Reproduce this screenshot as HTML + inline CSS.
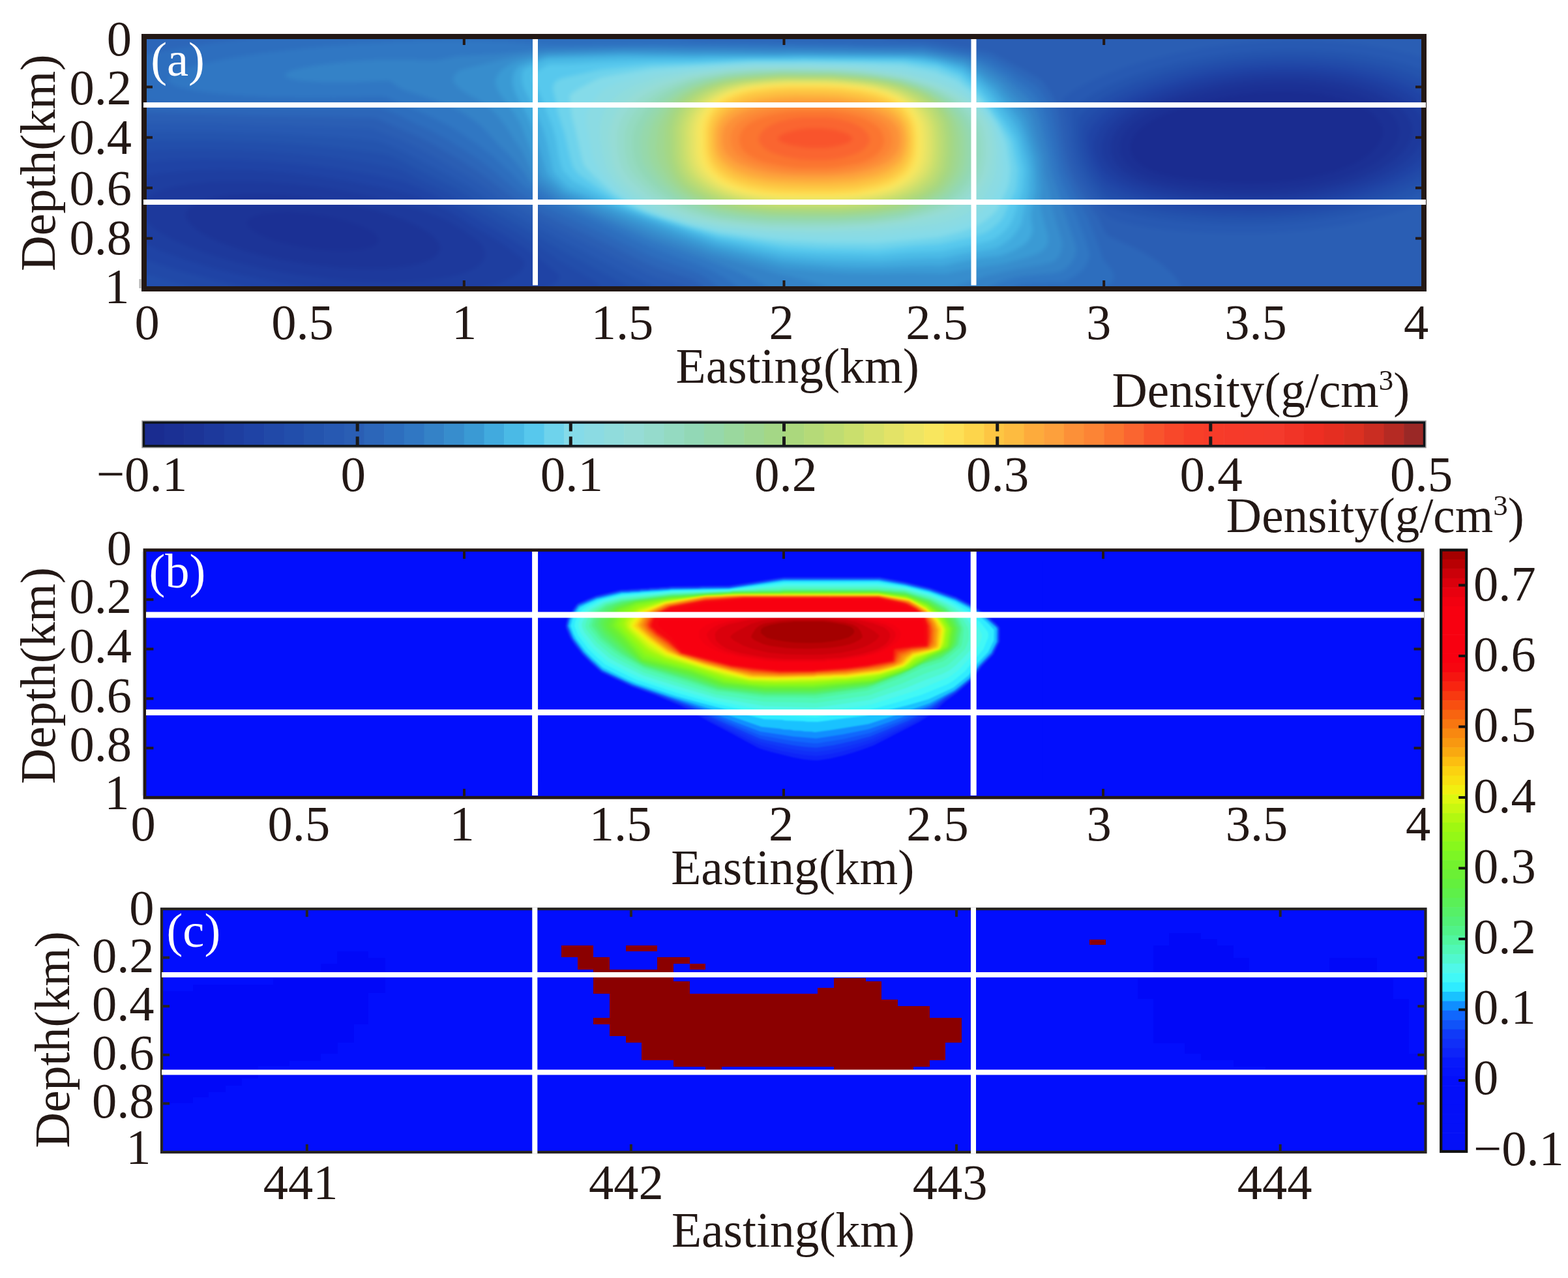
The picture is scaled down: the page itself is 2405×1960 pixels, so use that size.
<!DOCTYPE html><html><head><meta charset="utf-8"><title>Density sections</title><style>html,body{margin:0;padding:0;background:#fff;width:2405px;height:1960px;overflow:hidden}svg{display:block}</style></head><body><svg width="2405" height="1960" viewBox="0 0 2405 1960" font-family="'Liberation Serif', 'Times New Roman', serif" fill="#231815"><rect width="2405" height="1960" fill="#fff"/><clipPath id="ca"><rect x="221" y="56" width="1963" height="387"/></clipPath><filter id="fa" x="0" y="0" width="1" height="1" color-interpolation-filters="sRGB"><feGaussianBlur stdDeviation="3"/></filter><g clip-path="url(#ca)"><g filter="url(#fa)"><rect x="214" y="48" width="1978" height="404" fill="#1a2c90"/><path fill="#1b3094" fill-rule="evenodd" d="M214 48l1978 0l0 404l-1978 0zM1952 140l-24 1.5l-21.7 2.5l-24.3 4l-19.4 4l-24.1 6l-20.6 6l-19.9 6.8l-17.7 7.2l-12.3 6.2l-12 7.5l-8 6.5l-7.1 7.8l-4.7 8l-2.4 8l0.1 8l2.1 7l5.9 9l9.2 8l12.9 7.1l16 5.8l18 4.3l22 3.5l30 3l34 2.2l30 0.9l26-0.3l24-1.3l24-2.7l22-3.7l20.9-4.8l19.8-6l20.2-8l15.5-8l14.4-10l10.2-10l6.4-10l2.9-10l-0.6-10l-4.2-10l-8.4-10l-10.4-8l-14.7-8l-16-6.3l-20.2-5.7l-20.5-4l-23.3-2.8l-24-1.4z"/><path fill="#1c3497" fill-rule="evenodd" d="M214 48l1978 0l0 404l-1978 0zM420 325.9l-17.5 2.1l-13.8 4l-4.7 2.7l-3.3 3.3l-0.9 2l0 4l3.9 6l4.8 4l6.5 4l18 8l19 6l26 6l24 3.8l24 2.2l22 0.6l22-1.4l15.9-3.2l9.3-4l2.8-2.3l2.3-3.7l-0.1-4l-2.2-4l-3.9-4l-5.6-4l-16.3-8l-24.2-8l-26.1-6l-27.9-4.2l-28-2.2zM1944 129.9l-24 1.9l-22 2.7l-22 3.7l-26 5.7l-23.3 6.1l-22.7 7.1l-18.9 6.9l-18.1 8l-14.7 8l-11.7 8l-9 8l-6.6 8l-5 9.2l-2.3 8.8l0.3 10l2.6 8l6.6 10l4.8 4.8l6.6 5.2l14.2 8l17.2 6.5l22 5.5l24 4l34 3.7l36 2.6l32 0.9l28-0.5l28-1.9l26-3.3l28-5.2l24.6-6.3l23.4-8l18.4-8l17.8-10l13.8-10.4l10.9-11.6l3.9-6l2.8-6l1.7-6l0.6-6l-0.4-6l-1.6-6l-2.8-6l-4-6l-9.9-10l-14.7-10l-16.6-8l-21.9-7.6l-22-5.5l-26-4.3l-26-2.5l-28-0.9z"/><path fill="#1d399c" fill-rule="evenodd" d="M214 48l1978 0l0 404l-1978 0zM380 298l-22 1.1l-18 2l-16.2 2.9l-14.4 4l-9.5 4l-8.9 6l-4.5 6l-1.2 6l1.4 6l5.5 8l6.5 6l11.6 8l15.1 8l13.7 6l20.9 7.7l20 6.3l22.6 6l25.4 5.7l48 8.1l48 5l46 1.5l22-0.6l20-1.6l16-2.3l16-3.6l12-4.1l8-4.2l7.1-5.9l3.2-6l0.3-6l-1.3-4l-2.3-4l-7.3-8l-10.8-8l-14.2-8l-17.8-8l-20.9-7.7l-20-6.3l-22.6-6l-25.4-5.7l-50-8.4l-26-3l-26-2l-26-1zM1938 122l-26 2.3l-26 3.6l-22.6 4.1l-26.2 6l-23.2 6.4l-23 7.6l-20.5 8l-18.5 8.8l-14 8.3l-12 8.9l-8.3 8l-7.6 10l-4.7 10l-2 10l0.8 10l3.6 10l3.8 6l5.1 6l12.2 10l17.1 9.2l20 7.2l23.4 5.6l28.6 4.6l38 4l38 2.3l32 0.5l32-1.1l28-2.4l30-4.4l28-5.8l27.6-7.7l22-8l21.5-10l16.7-10l15-12l10.5-12l4.7-8l2.3-6l1.6-8l0.1-6l-1-6l-1.9-6l-3.1-6l-4.2-6l-5.5-6l-6.9-6l-15.4-10l-21.6-10l-24.4-7.9l-24-5.6l-29.3-4.5l-28.7-2.4l-30-0.8z"/><path fill="#1e3ea0" fill-rule="evenodd" d="M214 48l1978 0l0 404l-1978 0zM346 278l-28 1.4l-25.5 2.6l-22.5 3.9l-18 4.7l-16 6.4l-11 7l-3.9 4l-2.7 4l-1.6 4l-0.6 4l1.4 8l1.9 4l4.2 6l10.3 10l14.3 10l18.3 10l22.3 10l26.9 10l25.3 8l29.4 8l33.5 7.7l32.7 6.3l33.3 5.2l34 4.3l32 2.9l32 1.8l32 0.5l28.4-0.7l27.6-2.1l24-3.3l21-4.6l17-5.7l12.1-6.3l5.3-4l3.9-4l2.6-4l1.5-4l0.5-4l-0.8-6l-2.6-6l-2.8-4l-8.9-8l-26.3-18l-13.9-8l-17.5-8l-25.1-9.4l-27.1-8.6l-30.9-8.4l-33.6-7.6l-34.4-6.5l-36.5-5.5l-35.5-4.1l-36-2.7l-34-1.3zM1952 114l-28 1.8l-28 3.1l-28 4.5l-26 5.5l-27.4 7.1l-25.5 8l-23.1 8.8l-20 9.2l-17.3 10l-12.7 9.3l-11.1 10.7l-7.4 10l-4.7 10l-2.5 12l1.1 12l3.7 10l3.7 6l5.2 6.5l5.7 5.5l7.8 6l18 10l20.5 7.7l24.5 6.3l29.5 5l38 4.3l38 2.6l34 0.8l34-0.9l32-2.6l32-4.4l30-6l28-7.5l26.6-9.3l22.3-10l20.7-12l15.5-12l6.9-6.9l5.8-7.1l4.2-6.8l3.2-7.2l2.1-8l0.4-6l-0.4-6l-1.4-6l-3.3-8l-3.7-6l-4.9-6l-6.1-6l-7.5-6l-9-6l-19.5-10l-23.9-8.9l-26-7l-30-5.5l-30-3.3l-32-1.7z"/><path fill="#1f43a5" fill-rule="evenodd" d="M214 48l1978 0l0 125.3l-7.4-9.3l-8.6-8l-11.1-8l-10.9-6.4l-14-6.7l-16-6.3l-18-5.7l-18-4.6l-20-4l-20-3.1l-42-3.8l-44-0.5l-46 2.8l-46.4 6.3l-23.6 4.6l-22.8 5.4l-21.6 6l-21.6 7l-18.6 7l-18.2 8l-15.2 8l-12 7.5l-11.3 8.5l-8.7 8.2l-8.1 9.8l-5.8 10l-3.4 10l-0.8 8l1.4 10l3.3 10l5.4 10.7l6.9 9.3l7.1 6.5l10.8 7.5l11.2 6l14 6l16 5.2l16 4.1l40 7l54 5.3l52 1.9l46-1.4l44-4.4l43.2-7.7l38.8-10.3l18-6.2l18.6-7.5l16.5-8l12.9-7.4l12.6-8.6l9.7-8l9.6-10l6.1-8.4l0 226.4l-1978 0l0-81.9l31 13.9l38.4 14l42.6 12.7l45.5 11.3l48.5 9.8l50 7.9l50 6l48 3.7l48 1.7l44-0.7l40-3l34-5.1l28-7l12-4.4l10.3-4.9l7.7-4.8l6.1-5.2l4.8-6l2.1-6l-1.5-4l-5.8-6l-25.7-18.9l-16-10.2l-29.2-16.9l-24.8-16.1l-20.9-11.9l-21.1-10.6l-18-7.5l-20-5.8l-32-7.7l-50-10l-52-8l-52-5.8l-50-3.3l-50-1.1l-46 1.5l-42 3.9l-34 6.1z"/><path fill="#2149a8" fill-rule="evenodd" d="M214 48l1978 0l0 105.6l-10.1-7.6l-11.9-7.3l-13.2-6.7l-14.2-6l-16.6-5.8l-16-4.7l-38-8.1l-40-5.1l-42-2.2l-44 0.7l-44 3.6l-44 6.7l-44 9.8l-42 12.8l-18 6.7l-17.5 7.6l-15.6 8l-12.9 7.8l-11.4 8.2l-9.1 8l-9.1 10l-6.4 9.5l-2.7 6.5l-0.7 8l0.8 10l2.7 12l3.4 10l4.9 10l7.6 12.7l6 7.5l6 4.8l10 5.8l14 6.6l14 5.2l16 4.6l18 4.2l20 3.5l24 3.2l52 4.6l50 1.5l48-1.6l24-2.2l24-3l44-8.1l22-5.5l20-5.9l18-6.3l18.6-7.6l16.5-8l14-8l12.9-8.8l12-9.9l0 206.7l-1381.6 0l22.1-8l9.5-4.7l8.5-5.3l5.1-4l3.3-4l0.1-2l-3.2-4l-31.9-26l-23.9-16.7l-24-15.4l-42-23.8l-25.6-16.1l-20.4-11.6l-28-14.1l-40-17.9l-44-9.7l-56-9.6l-52-6.7l-54-4.9l-54-2.7l-52-0.6l-50 1.6l-44 3.7zM214 396l0-1.3l25.9 9.3l26.1 8.4l60 16.4l56 12.4l60.6 10.8l-228.6 0z"/><path fill="#224eab" fill-rule="evenodd" d="M214 48l1978 0l0 91l-12.2-7l-13.8-6.6l-30-11.2l-36-9.4l-38-6.5l-40-3.9l-44-1.4l-44 1.6l-44 4.3l-46 7.6l-44 10.4l-40 12.5l-34 14l-16 8.2l-13.8 8.4l-12.2 8.9l-10.2 9.1l-7.2 8l-3.7 6l-1.5 6l-0.5 10l0.6 10l1.8 12l2.6 10l4.1 10.8l4.7 9.2l9.7 16l7.6 9.7l6 5.3l9.6 5l12.4 5.3l14 4.8l16 4.5l34 6.7l42 5.3l56 3.9l52 0.4l26-1.1l26-2l48-6.4l24-4.6l24-5.6l22-6.3l20-6.7l20-7.9l17.8-8.3l16.2-8.9l14-9.2l0 192.1l-1286.7 0l10.7-7.3l4.2-4.7l-0.2-2l-1.5-2l-8.4-6l-52.1-30.3l-26.2-17.7l-38.3-24l-53.5-30l-38-23.3l-28-14.8l-30-13.9l-28-14.3l-10-4.1l-40-7.6l-50-7.4l-50-5.7l-50-4l-52-2.6l-52-1.1l-50 0.4l-48 2.1zM214 418l0-1.1l36 11l38 10.2l59.7 13.9l-133.7 0z"/><path fill="#2454ae" fill-rule="evenodd" d="M214 48l1978 0l0 77.5l-28-12.1l-34-10.7l-36-7.8l-42-5.9l-42-3l-44-0.4l-44 2.3l-46 5.2l-46 8.1l-46 11.4l-40 13.1l-18 7.2l-16 7.4l-16 8.6l-14 9l-12 9.1l-10 9.4l-2.8 3.6l-1.2 4l-0.6 20l0.5 12l2.1 14l3 12l4.6 12l8.5 16l6.2 10l9.2 12l8.5 8.8l6 3.8l8 3.3l26 8.4l28 6.3l30 4.6l58 5.5l58 2.1l26-0.3l28-1.3l50-4.9l26-4l26-5l26-6.2l22-6.3l22-7.4l20-7.9l18-8.3l18-9.8l0 178.6l-1205.5 0l-6.1-4l-118.4-63.3l-65.8-38.7l-48.2-26.6l-30-19l-22-12.8l-42-20.8l-34-17.8l-26-11.7l-8-1.8l-20-2.9l-50-6.1l-48-4.4l-50-3.4l-52-2.3l-52-1.2l-52-0.1l-48 1zM214 442l0-1.9l44 11.9l-44 0z"/><path fill="#2759b2" fill-rule="evenodd" d="M214 48l1978 0l0 63.1l-30-10.9l-34-9.1l-34-6.5l-40-5.1l-40-2.7l-40-0.5l-40 1.5l-42 3.8l-42 6.1l-44 8.9l-40 10.6l-36 12l-18 7.3l-16 7.3l-14 7.4l-14 8.6l-11.5 8.2l-9.4 8l-2.5 4l-0.6 6l2.3 40l4.5 24l3.2 10l4 9.5l7.7 14.5l6.1 10l16.2 20.7l8 8.4l4 3.1l6 2.8l14 4.5l28 6.9l26 4.5l28 3.4l32 2.8l34 1.9l32 0.9l30-0.1l28-1.1l30-2.2l30-3.4l28-4.2l28-5.4l26-6.1l24-6.8l24-8l24-9.4l20-9.4l0 164.2l-1148.3 0l-39.7-11.3l-38-18l-100-51.1l-38-20.3l-68-38.1l-40-26.1l-28-16.1l-70-36.6l-22.5-10.4l-17.5-6.8l-12-2.1l-50-4.4l-100-5.7l-104-3l-102-0.3z"/><path fill="#2a5eb4" fill-rule="evenodd" d="M214 48l1978 0l0 43.4l-30-8.8l-34-7.7l-36-5.8l-38-4.1l-40-2.3l-40-0.2l-42 1.7l-38 3.2l-42 5.6l-42 7.7l-42 9.9l-36 10.5l-34 12.3l-30 13.7l-18 10.1l-14 9.3l-4.1 3.5l-1.2 4l3.7 24l5.4 46l4.8 22l6 16l9.3 18l8.9 14l11.2 15l18 21.4l6 4.7l14 4.4l22 5.3l24 4.3l28 3.5l32 2.6l40 2l38 0.7l36-0.5l34-1.8l30-2.6l32-3.9l26-4.2l30-5.9l26-6.2l28-7.9l24-8.1l24-9.3l0 144.5l-1123.2 0l-4.4-6l-6.4-4.5l-50-15.5l-12-5l-160-78.2l-60-33.2l-15.1-9.6l-24.9-17.9l-18-11.7l-66-37.3l-20-10.4l-18-8.4l-42-16l-6-1l-28-1.4l-114-4.1l-108-2.7l-102-1.4z"/><path fill="#2c66b9" fill-rule="evenodd" d="M214 48l1135.3 0l5 10l6.8 2l28.8 2l28.1 0.8l64 10.3l34 6.4l8 2.9l42 22.4l28 15.8l6.4 5.4l8.5 12l4.8 8l4.3 8.9l3.2 9.1l2.9 12l6.8 44l4.1 20l3.1 12l3.6 10l7.5 16l6.8 12.4l27.4 41.6l12.6 25.6l2 2.5l4 2.7l33.9 15.2l19.6 10l13.3 8l14 10l13.4 12l10.3 12l7.3 12l3.6 10l-730.4 0l-3.7-6l-5.3-6.1l-7.1-5.9l-6.9-4l-8-3.2l-46-15l-18-7.4l-72-35.1l-82-37.9l-52.8-29.4l-11.5-8l-27.7-21.6l-18-12.6l-18-11.5l-44-25.8l-28-14.5l-29-12l-31-14.1l-8-1l-180-3.1l-176-5z"/><path fill="#2d6ebe" fill-rule="evenodd" d="M473.4 50l24.4-2l492.4 0l25.8 4.7l29.8 7.3l16.1 2l30.1 1.6l14-0.3l84 2.3l112 1.5l14 1l100 0.8l68 10.4l32 8.2l6 2.6l28.4 15.9l37.2 24l6.4 6.3l11.6 17.7l4.4 9.5l3.2 10.5l14.7 72l5.3 18l10.8 24l24.6 46l11.9 30l11.5 33l2 3.4l8.4 9.6l3.8 6l2.1 6l-0.3 6.8l-3 5.2l-5 3.8l-6 2.5l-8 1.9l-14 1l-20-0.6l-16 3.7l-60 0.9l-6 1.4l-5.9 3.4l-453 0l-8.3-10l-8.8-8l-11.1-8l-10.6-6l-14.3-5.8l-46-15.7l-18-7.2l-72-34.5l-80-35.7l-48-27.1l-34-29.2l-20-15.7l-20-13.9l-34-21.3l-24-13l-19.9-8.9l-28.5-14l-27.6-11.7l-8-1.4l-104 0.6l-106-2l-82-3.5l-72-5.5l0-69.6l54-10.1l62-9.3l70-8.5z"/><path fill="#3077c3" fill-rule="evenodd" d="M611.2 64l54.8-1.5l50-0.2l56.7 1.7l57.3 4.2l40 0.9l136-1.4l60 1.2l42-0.2l194 2.4l14 0.8l98 0.7l8 0.7l44 7.2l22 4.2l28 10.2l32 19.1l34.2 26l5.1 6l9.4 14l3.8 8l3.8 12l18.5 82l8.3 22l20.5 48l14.5 40l4.7 16l0.3 4l-1.3 6l-4.8 10l-6.6 8l-10.2 8l-12.2 6.6l-8 2l-50 2.2l-10 1.1l-8 2.2l-8.8 3.9l-6.9 4l-7.9 6l-391.6 0l-13.4-12l-13.8-10l-13.3-8l-19.8-10l-16.5-7l-70-25.4l-71.8-33.6l-78.2-33.5l-44-26l-20-20.7l-28-26l-24-18.6l-28-18.6l-16-9.8l-16-8.4l-38-17.3l-42-18l-8-1.3l-62 1.8l-60 0.2l-48-1.1l-44-2.1l-40-3.3l-32-4.4l-22.2-4.9l-7.8-2.8l-6.2-3.2l-3.6-4l0-4l3.2-4l10-6l12.6-4.9l17.2-5.1l46-10l54.8-8.6l66-7.6l70-5.8z"/><path fill="#3482c7" fill-rule="evenodd" d="M1001.8 72l414.2 4.3l66 11l7.2 2.7l22.8 10.6l28 17.4l25.8 22l12.2 12l7.3 10l5.6 10l4.5 14l12.6 50l2.9 18l3.3 14l10.4 30l6.1 22l19 56l1 6l-0.2 4l-1.3 6l-2.4 6l-4 6l-3.6 4l-7.2 5.7l-6 3.4l-12 2.2l-44 4l-16 3.3l-17.4 5.4l-14.3 6l-11.7 6l-12.8 8l-303.7 0l-15.2-10l-17-10l-19.5-10l-17.8-8l-47.2-18l-77.4-26.7l-58.1-25.3l-89.9-37.4l-38.7-26.6l-9.3-15l-12-14.9l-12.8-14.1l-18.4-18l-14.8-16.6l-9.6-9.4l-10.2-8l-14.2-9.5l-11.5-6.5l-12.5-6l-24-9.3l-44-14.4l-8.5-4.3l-11.5-8.5l-4-1.8l-54 2.6l-46 0l-33.6-2.3l-12.6-2l-9.8-3.1l-1.7-0.9l-1.7-2l0.4-2l2.1-2l9-4l6.8-2l30.7-6l50.4-5.7l36-2.2l30-0.8l26 0.3l34 1.5l12-1.3l28-5.7l56-3.2l80-7.6l118-3z"/><path fill="#378dcd" fill-rule="evenodd" d="M950.8 76l57.2-0.3l58 1.2l42-0.2l82 1.3l16-0.4l208 2.1l8 0.7l54 9.7l8 2.4l28 16l24 16.4l30.9 31.1l9.1 11.6l5.3 8.4l3.4 10l9 34l6.1 20l3.6 28l7.1 28l2.8 20l5.8 22l9.8 30l0.7 10l-2.4 10l-3.2 5.6l-3.7 4.4l-4.3 3.2l-4 1.6l-16 3.8l-34 5.4l-48 11.1l-28.7 8.9l-27.3 10.7l-6 1.7l-62.5 7.6l-83.3 0l-6.2-1.4l-28-9.6l-38-11.3l-20-5.2l-16-3.2l-31.2-9.3l-76.8-20.7l-86-29.3l-142-57.4l-8.2-4.6l-29.1-22l-4-4l-20.7-43.4l-10.2-14.6l-13.8-22l-12-15.5l-10-10l-10-8.1l-12-8.1l-20-11.1l-9.4-7.2l-3.8-4l-2.6-4l-1.2-4l0.5-4l4-6l4.5-3.5l4-1.8l72-17.9l14-2.7l46-7.1z"/><path fill="#3a9ad4" fill-rule="evenodd" d="M930.5 80l25.5-0.8l26 0.2l84 1.4l14-0.5l112 1.4l14-0.7l208 1.9l28 4.5l38 7.9l18 11.6l32.3 23.1l28.5 32l9.5 12l5.7 9.3l6.9 20.7l11.7 40l5.1 46l-1.7 16l0.2 10l2.5 14l8.8 32l0.1 8l-1.6 6.7l-3.7 5.3l-5.4 4l-7.8 4l-11.3 4l-37.8 10.3l-62.2 9.7l-27.8 5.8l-54-1l-42 1l-54-0.7l-34-2.1l-62-5.6l-76-17.9l-36-9.3l-86-30.1l-139.4-54.1l-7-4l-21.6-18l-6.6-6l-2.8-4l-30.6-79l-10-16.7l-18.5-24.3l-5.2-8l-2.7-6l-1.7-6l-0.2-4l0.8-4l3.1-6l5.1-6l14.2-10l13.1-5.2l32-7.7l12-2.4z"/><path fill="#41aade" fill-rule="evenodd" d="M915.7 84l40.3-1.2l112 1.7l12-0.6l112 0.8l36-0.6l162 1.2l30 1.6l22 4l36 8.9l6 3.6l19.1 14.6l22.9 18.9l33.6 41.1l5.4 8l5 11.2l4 10.8l9.9 34l3.1 20l1.3 28l-6.6 36l-0.1 10l2.2 16l-0.4 4l-1.4 4.8l-5.4 9.2l-8.6 7.3l-12.6 6.7l-17.4 6.9l-6 1.7l-28.1 3.4l-17.9 3l-40 8.7l-24-0.3l-30 0.8l-40 2l-30 0l-34-1l-62-4.6l-28-3l-102-23.8l-88-31.5l-136-50.7l-6-3.1l-4-3.3l-18.3-17.2l-3.4-4l-2.4-4l-11.4-38l-12.3-36l-6.3-14l-15.3-28l-3.4-8l-3.1-12l0.3-10l1.6-6l2-4l3-4l3-2.6l14-5.6l26-8.6l6-0.9z"/><path fill="#4abae6" fill-rule="evenodd" d="M929.7 88l26.3-1l112 1.3l14-0.7l112-0.1l36-0.7l158 1.1l28 2.1l22 3.7l36 10.4l6 3.2l17.8 14.7l11.6 10l10.6 10.7l32.4 41.3l6.4 10l7.2 14.9l10.4 37.1l2 10l0.7 8l-0.8 28l-2.1 10l-4.6 16l-4.7 24l-4 8l-4.1 6l-4.7 6l-6.1 5.8l-12 8.5l-7.3 3.7l-4.7 1.4l-44 7.7l-36 7.4l-22 0.1l-28 1.2l-44 3.3l-62-1.3l-36-1.9l-52-4.5l-100-21.8l-116-40.5l-54-20l-56.8-23.1l-5.4-4l-17.5-18l-2.4-6l-8.9-40l-7-24l-8.9-22l-19.5-38l-2.6-8l-1-10l1.1-8l3.1-4l12.2-6l18.8-8l4.8-1.4z"/><path fill="#57c8ed" fill-rule="evenodd" d="M1147.2 90l84.8-0.5l156 1.2l26 2.8l24 3.9l30.8 10.6l7.2 3.3l25.3 22.7l12.4 14l31.5 42l11.3 18l3.5 8l10.5 42l0.3 6l-1.5 22l-1.7 10l-6.3 16l-5.3 18.2l-3.2 7.8l-4.7 8l-4.1 5.3l-8 7.7l-8 5.8l-8 4.2l-18 4.8l-58 11.4l-48 2.1l-50 4.7l-90-2.4l-52-3.8l-104-20l-88-28.5l-30-10.6l-42-17.5l-60-30.8l-14.9-14.4l-2.6-4l-1.6-4l-4.1-16l-4.6-28l-5.2-18l-17.5-46l-11.7-26l-0.6-4l0.3-2l1.2-2l4.3-4l15-9.3l4-1.5l4-0.5l28-0.2l44-2.8l78-2.8l74-0.4z"/><path fill="#6ed3ec" fill-rule="evenodd" d="M1123.2 94l30.8-1.6l64 0.3l14-0.6l154 1.9l51.9 8l34.1 13.8l24 21.4l12.6 14.8l26.4 36l13.8 22l3.7 8l8.9 42l-2 26l-2.1 8l-9.2 18l-8.5 20l-4.1 6l-8.1 8l-9.4 7.3l-8 4.3l-16 5.4l-52 11.3l-42 2.9l-54 6l-88-1.7l-56-3.8l-102-16.9l-48-13.5l-58-18.9l-29.4-12.4l-22.8-12l-19.2-12l-32.6-22.7l-6-5.7l-5.3-7.6l-3.8-12l-8.7-38l-11.1-34l-2.1-14l-4.9-20l0.1-6l2.6-6l5.2-3.8l8-3l58-12.7l76-7.6l60-1.6z"/><path fill="#85dbe9" fill-rule="evenodd" d="M1141 96l15-0.8l88-0.2l80 1.5l60 2.6l50 9.3l34 13.8l24 19.3l16 17.4l12.9 17.1l9.2 14l9.4 18l4.9 12l5.8 38l-2.1 22l-3 10l-15.6 32l-5.2 6l-10.3 8.6l-10 6.9l-10 5.5l-22 7.2l-32 8.1l-96 9.1l-76-0.3l-64-3.3l-30-3.4l-72-10l-42-9.8l-42.5-12.6l-31.5-11.5l-24.8-12.5l-18.3-12l-12.7-10l-25.3-24l-7.4-8l-2.5-4l-2.6-8l-9.2-42l-6.3-24l-3.3-28l0.4-2.9l2-3l12-8.4l22.3-11.7l11.7-5l12-2.6l66-11.4z"/><path fill="#8bdbe3" fill-rule="evenodd" d="M1128.5 100l27.5-1.7l86-0.1l80 2.4l34 2.6l30 2.9l40 8.6l10 2.7l26 10.7l10 5.9l10 7.1l20 17.8l15 19.1l9.5 16l8.1 22l2.4 10l0.8 8l0.8 28l-2.3 14l-2.8 8l-13.1 26l-4.2 6l-16.2 14.4l-8.1 5.6l-7.9 4.2l-20 7.2l-28 6.9l-94 9.2l-74 0.8l-48-1.5l-46-3.1l-68-7.2l-30-5.7l-22-5l-33.5-9.8l-31.9-12l-25.3-14l-11.3-8.1l-9.2-7.9l-7.7-8l-13.7-18l-10.5-18l-2.4-8l-5-24l-3.2-20l-1.1-12l1.5-10l6.8-14l10.5-13.3l7.2-6.7l4.8-3.3l21.1-8.7l32.9-9.7l18-4.4l14-1.7l50-5.1z"/><path fill="#90dcdc" fill-rule="evenodd" d="M1151.4 102l44.6-0.8l46 0.1l12 0.8l32 0.3l44 2.9l50 6.2l16 3.3l38 10l28 11.7l10 5.3l8 5.5l20 16l14.4 18.7l3.6 6l3.7 8l4.9 18l2 14l0.3 6l-1 18l-1.9 14l-3 10l-4.7 10l-10.1 18l-10.2 10.7l-14.1 11.3l-11.9 6.3l-8 3.4l-10 3.2l-22 5.2l-48 6l-46 4.1l-72 2.4l-46-0.7l-44-1.3l-68-6l-32-5.6l-22-5l-32-10.1l-30-12.6l-22.3-13.3l-17.6-14l-10.7-12l-7.8-12l-4-8l-4.9-18l-3.4-22l-1.2-18l1.5-10l3.5-12l3.6-8l5-8l6.3-7.3l5.3-4.7l7.9-6l10.1-6l10.7-5.4l30.6-10.6l25.4-5.1l36-5.5l52-5.6z"/><path fill="#96dcd6" fill-rule="evenodd" d="M1190.9 104l49.1-0.3l14 0.8l30 0.3l38 2.4l44 5.7l22 3.9l38 10.3l20 7.8l22 10.5l14 9.8l15.5 12.8l12.5 17.1l3.7 6.9l2.3 6l4.1 20l1 14l-0.9 12l-4.2 22l-3.3 8l-4.3 8l-10.4 15.7l-14 12.7l-6 4.6l-14 8.1l-10 4.3l-26 7.2l-42 8.3l-50 6l-72 3.1l-80-1l-44-3.1l-32-3.2l-34-6.5l-24-6.4l-28-10.1l-28-13.4l-22-15l-10.8-9.3l-7.4-8l-4.5-6l-7-12l-2.4-6l-2.6-10l-3.2-24l0.1-14l1.6-8l3.6-12l3.7-8l6.6-10l8.3-9.2l6-5.5l12-9.2l18-8.8l22-8.5l30-7.4l18-3.6l56-7.3l36-2.1z"/><path fill="#95dbcc" fill-rule="evenodd" d="M1191.3 106l6.7-0.5l42 0.2l14 0.8l30 0.3l36 2.3l44 5.8l22 3.9l36 10.1l18 7.1l20.1 10l9.6 6l21.4 18l10.2 14l6.8 14l2.8 12l1.3 10l0.7 12l-0.6 10l-4.1 22l-6.4 14l-9.3 14l-14.5 13.4l-18 11.7l-10 4.6l-28 8.8l-34 7.8l-10 1.8l-44 5.2l-70 3.1l-28-0.1l-58-1l-54-4.7l-30-4.5l-33.1-8.1l-14.9-5l-18-7.2l-24-12.2l-9.2-5.6l-13.2-10l-15-14l-9-12l-4.3-8l-2.9-8l-2.2-10l-1.9-16l-0.2-14l1.3-8l3.3-12l3.8-8l3.8-6l10-12l13.7-12.6l8.8-5.4l15.2-8l16-6.8l32-9.5l24-4.7l42-6.1l38-2.4z"/><path fill="#94dac1" fill-rule="evenodd" d="M1189.4 108l12.6-0.7l78 1.1l40 2.5l22 2.6l38 6l20 5.2l28 9.3l20.8 10l16 10l19.7 18l7.5 10l8.1 16l2.1 8l1.8 12l0.7 12l-0.3 10l-3.3 20l-5.8 14l-7.5 12l-13.8 14.1l-16 11.5l-10 5.1l-26.1 9.3l-33.9 8.5l-12 2.1l-42 5.1l-50 2.6l-48 0.5l-56-1l-38-3.1l-36-4.5l-28-6.2l-26-8.2l-26.2-11.8l-23.3-14l-16.7-14l-14.6-16l-4.9-8l-3.5-8l-2.8-12l-1.5-12l-0.5-12l0.6-8l2.1-10l3.3-8.5l4.3-7.5l7.4-10l8.3-9.4l5-4.6l11-8l12.9-8l17.3-8l25.8-8.9l24-5.5l42-6.6l36-2.4z"/><path fill="#92d8b6" fill-rule="evenodd" d="M1178.9 110l21.1-1.1l78 1l42 2.8l22 2.5l38 6.1l16 4.3l24 8l18 8.3l18 11l8 6.6l8.7 8.5l10.2 12l4.5 8l4.5 10l2.5 8l1.4 10l0.7 22l-3.1 20l-5.7 14l-6.2 10l-13.5 14.7l-14 10.7l-10 5.3l-24 9.4l-32 8.5l-12 2.4l-42 5.2l-50 2.6l-48 0.5l-54-1l-40-3.3l-36-4.8l-26-6.2l-24-8.1l-21.1-9.9l-10.9-6.4l-13.9-9.6l-9.5-8l-9.7-10l-8.4-10l-4.5-6.9l-3.3-7.1l-2.2-8l-1.9-14l-0.6-12l0.6-8l3.6-14l5.1-10l5.3-8l6.1-8l7.7-8l6.9-6l12.7-9.4l20-10.5l20-7.7l22-5.9l36-6.5l42-3.5z"/><path fill="#96d8ab" fill-rule="evenodd" d="M1168.8 112l29.2-1.4l42 0.2l40 0.8l40 2.7l24 2.8l36 6.1l29 8.8l19.1 8l17.9 10.5l7.3 5.5l6.5 6l9.2 10l6.1 8l3.6 6l3.7 8l3.5 10l1.2 6l1.1 12l0.3 14l-2.3 18l-2.4 8l-3.5 8l-8.1 12l-12.9 14l-11.3 8.5l-18 9l-17.6 6.5l-28.4 7.8l-42 6.1l-60 3.5l-46 0.4l-56-1.2l-46-4.3l-30-4.6l-24-6.3l-15.2-5.4l-12.8-5.6l-12.3-6.4l-9.4-6l-17.7-14l-7.6-8l-9.7-12l-8.6-14l-2-6l-1.4-8l-1.1-12l0-10l1.2-8l2.2-8l3.3-8l4.3-8l5.4-8l8.1-10l14.9-14l18.4-11.4l18.9-8.6l23.1-7l32-6.5l26-2.8z"/><path fill="#9ad89e" fill-rule="evenodd" d="M1165.4 114l34.6-1.8l76 0.7l54 4.1l32 4.4l20 4.1l28 9.2l15.9 7.3l16.3 10l11.2 10l13.2 16l4.7 8l3.4 8l4.5 16l1.2 26l-1.9 16l-2.3 8l-3.3 8l-9.4 14l-11 12l-10.5 7.8l-15.4 8.2l-21.5 8l-21.1 6l-42 6.4l-60 3.5l-46 0.4l-56-1.3l-46-4.4l-28-4.6l-24-6.7l-23.3-9.3l-17.5-10l-9.2-6.8l-10.2-9.2l-11.6-14l-6.7-10l-4.4-8l-2.3-6l-1.3-6l-1.4-20l3.8-20l6-14l11.7-18l12.4-13l15.7-11l18.3-9.3l20-6.7l30-6.9l26-3.2z"/><path fill="#9fd792" fill-rule="evenodd" d="M1195.8 114l82.2 0.5l40 2.9l24 2.5l20 3.2l20 4.3l28 9.7l16 8.1l15.7 10.8l7.7 8l11.9 16l3 6l3.6 10l3.6 16l0.8 26l-2.5 16l-2.4 8l-2.8 6l-6.5 10l-10.1 12.2l-8 6.5l-16 9.4l-22 8.7l-20 5.8l-40 6.3l-52 3.5l-54 0.3l-54-1.1l-46-4.4l-30-5.4l-24-7.2l-22-9.8l-16.8-10.8l-7.1-6l-9.5-10l-12.6-20l-3.6-8l-1.9-6l-1.6-8l-0.7-10l3.1-26l2.6-8l3.7-8l9.2-16l8.8-10l14.4-11.2l16-9l20-7.4l28-7l22-3z"/><path fill="#a4d786" fill-rule="evenodd" d="M1191.9 116l10.1-0.6l74 0.5l42 3.1l24 2.5l20 3.2l20 4.6l24.3 8.7l15.5 8l14.2 9.7l6.7 6.3l12.4 18l2.9 6l1.8 6l3.7 18l0.6 28l-3.3 20l-2.2 6l-3.2 6l-9.6 14l-5.9 6l-15.9 10.8l-14 6.6l-14 5.2l-20 5.5l-34 5.4l-24 1.9l-28 1.8l-54 0.1l-52-0.9l-36-3.3l-14-1.8l-32-6.5l-18-6.1l-20-9.3l-16.6-11.4l-6.3-6l-6.8-8l-7.8-14l-5.5-14l-2.6-18l0.9-28l1.7-8l3.6-10l3.5-8l3.5-6l8-10l11.6-10l14.8-9.2l18-7.4l16-4.9l18-3.9l28-3.5z"/><path fill="#abd87d" fill-rule="evenodd" d="M1182.9 118l19.1-1.1l72 0.4l44 3.2l22 2.3l22 3.7l18 4.2l16 5.6l17 7.7l12.6 8l12.1 10l11.8 18l3.4 8l3.8 22l0.3 24l-2.9 22l-1.9 6l-3 6l-7.5 12l-5.7 6.4l-16 11.5l-12.6 6.1l-13.4 5.2l-20 5.7l-32 5.4l-24 2.1l-30 1.9l-52-0.1l-50-0.7l-26-2.3l-24-2.8l-30-6.3l-20-6.9l-18-8.8l-16-11.2l-5.3-5.2l-6.3-8l-5.5-10l-5.5-16l-1.2-14l-0.7-32l3.9-16l2.9-8l3.2-6l7.1-10l9.4-8.7l14-9.6l17-7.7l17-5.6l16-3.7l20-3z"/><path fill="#b5da78" fill-rule="evenodd" d="M1178.4 120l23.6-1.6l70 0.3l56 4.4l12 1.3l20 3.5l16.7 4.1l17.3 6.2l16 7.6l12.1 8.2l11.9 10.5l9.5 15.5l3.7 8l3.5 22l0.3 22l-2.7 22l-1.8 6l-2.9 6l-7.6 12.6l-7.7 7.4l-12.3 8.9l-19.2 9.1l-16.8 5.8l-10 2.4l-30 5.2l-24 2.1l-28 1.9l-52-0.1l-48-0.7l-28-2.4l-22-2.8l-30-6.6l-20-7.4l-14-7l-16-11.1l-7.4-7.3l-8.3-12l-6.4-18l-1.3-10l-0.7-36l1.5-8l3.5-12l6.1-12l8-10l15-12l16-8.4l14.9-5.6l17.1-4.7l20-3.5z"/><path fill="#bfdc72" fill-rule="evenodd" d="M1200.2 120l73.8 0.3l30 2.1l36 3.8l20 3.8l18 5l17.2 7l14.5 8l10.4 8l10.2 10l9 16l3.2 10l2.4 22l-0.1 16l-1.4 14l-2.8 12l-8.7 16l-5.9 6.5l-14 10.9l-17 8.6l-17 6.3l-10 2.6l-28 5.1l-24 2.5l-28 1.8l-96-0.5l-30-2.5l-20-2.6l-14-2.9l-22.5-5.8l-17.5-7.3l-15.2-8.7l-14.8-12l-7.6-10l-4.9-10l-4.1-14l-1.6-34l0.6-10l4.7-18l7.8-14l9.6-10l11.5-9l12.6-7l19.4-7.5l12-3.3l20-3.7l32-3.4z"/><path fill="#cadf6d" fill-rule="evenodd" d="M1194.5 122l15.5-0.6l62 0.4l32 2.2l34 3.8l22 4.5l18 5.5l14 6.2l12 6.9l12 9.6l10 10.6l8 14.9l2.5 8l2.3 22l0 14l-1.3 14l-2.8 12l-7.4 14l-7.1 8l-12.4 10l-15.8 8.4l-16 6.3l-10 2.7l-28 5.5l-24 2.7l-28 1.8l-90-0.5l-36-2.9l-22-3.5l-28-7.1l-17.7-7.4l-13.7-8l-12.7-10l-7.1-8l-6.1-10l-5-16l-1.3-20l0-22l1.4-8l2.9-10l6.1-12l8.5-10l10.7-9.3l12-7.4l16.4-7.3l13.6-4.3l20-4.2l22-2.8z"/><path fill="#d7e16a" fill-rule="evenodd" d="M1187.2 124l20.8-1l60 0.2l22 1.2l36 3.6l16 2.5l22.5 5.5l13.5 4.8l16 8.1l12 8.3l12.5 12.8l5.6 8l5.9 14l1.7 10l0.9 12l0.1 16l-1.1 12l-2.1 10l-6.8 14l-4.7 6.2l-12 10.9l-14 8.2l-12 5.5l-12 4.2l-18 4.2l-14 2.6l-24 2.8l-30 1.8l-46 0.1l-40-0.6l-28-2.2l-26-3.8l-14-3.1l-18-5.4l-19.5-9.4l-14.5-9.9l-10-9.9l-6.7-10.2l-4.4-12l-1.9-12l-0.6-32l3.1-16l5.2-12l7.7-10l9.6-9.5l12-8.3l14-6.9l14-5l20-4.7l22-3.1z"/><path fill="#e3e367" fill-rule="evenodd" d="M1183.6 126l26.4-1.3l56 0.1l24 1.2l26 2.6l24 3.6l20 4.9l18 6.7l11.4 6.2l12.6 9l10.3 11l6.8 10l4.8 12l2.2 14l0.3 26l-2.1 16l-6.1 14l-4.2 6l-10 10.1l-11.9 7.9l-12.1 6.3l-12 4.7l-18 4.7l-14 2.7l-24 3.1l-30 1.9l-44 0.2l-42-0.7l-26-2.1l-26-3.9l-14-3.1l-18-5.8l-16-7.8l-14.6-10.2l-8.3-8l-8.2-12l-3.7-10l-2-12l-0.6-32l2.4-14l4.9-12l8.8-12l5.8-6l10.2-8l14.5-8l12.8-5l20-5.3l14-2.4z"/><path fill="#eee563" fill-rule="evenodd" d="M1181.4 128l28.6-1.7l54 0.2l38 2.4l24 2.8l16 3l20 5.5l17.9 7.8l12.1 7.8l9.3 8.2l10.6 14l5.5 12l2.7 16l0.3 24l-2 16l-5.9 14l-7.8 10l-6.2 6l-12 8l-10.5 5.6l-10 4l-16 4.5l-14 2.9l-26 3.6l-30 1.8l-42 0.2l-40-0.7l-28-2.1l-24-3.9l-16-3.7l-16-5.5l-12-5.9l-12-8.2l-9.7-8.6l-7.5-10l-4.8-10.6l-2.7-13.4l-0.6-30l1.4-12l3.9-12l7.5-12l5-6l9.5-8.5l14-8.6l12-5.2l20-5.8l16-2.9z"/><path fill="#f8e65e" fill-rule="evenodd" d="M1179.3 130l32.7-1.9l54 0.2l24 1.2l34 3.9l16 3l19.7 5.6l16.3 7.1l13.3 8.9l8.4 8l8.4 12l5.4 12l2.6 16l0.3 22l-1.3 14l-5.1 14l-3.8 6l-8.7 10l-11.2 8l-8.3 5l-11.3 5l-14.7 4.5l-16 3.4l-24 3.6l-30 1.8l-42 0.2l-40-0.6l-28-2.3l-10-1.3l-28-6.2l-14.4-5.1l-11.6-5.7l-11.8-8.3l-8.8-8l-7.1-10l-4.3-10l-2.5-12l-0.6-32l1.7-12l3.4-10l7.1-12l9.3-10l10.6-8l11.6-6l10.6-4l14.8-4.4l14-2.7z"/><path fill="#fde056" fill-rule="evenodd" d="M1179.4 132l32.6-2l52 0.2l26 1.3l34 4.1l16 3.2l18 5.4l16.9 7.8l11.4 8l7.7 7.8l7.8 12.2l4.7 12l2 16l-0.1 20l-1.6 14l-5.4 14l-7.1 10l-4.3 4.2l-13.7 9.8l-12.1 6l-18.2 5.8l-28 5.4l-10 1.2l-12 0.3l-18 1.5l-40 0l-38-0.5l-28-2.2l-11.1-1.5l-26.9-6.2l-15.6-5.8l-10.4-5.5l-11.4-8.5l-7.9-8l-6.2-10l-3-8l-2.2-12l-0.6-30l2-14l2.9-8l5.5-10l8.9-10.3l9.8-7.7l11.2-6l23.1-8l15.9-3.2z"/><path fill="#fdd54b" fill-rule="evenodd" d="M1185.1 134l28.9-1.4l50 0.3l26 1.3l31.1 3.8l19 4l18.4 6l13.5 6.7l10.5 7.3l7.5 7.5l7.8 12.5l4.2 12l1.7 14l-0.1 18l-1.7 14l-5.4 14l-6.5 9.2l-4 3.9l-12 8.8l-11.8 6.1l-16.2 5.5l-30 6l-8 0.9l-32 1.9l-38-0.1l-38-0.6l-28-2.5l-24-4.6l-14-3.8l-12.3-4.7l-9.7-5.1l-12-8.8l-6-6.1l-6.4-10l-3.6-10.4l-1.9-11.6l-0.2-28l2.6-14l4.5-10l5-7.7l7.8-8.3l7.9-6l11.2-6l16.1-6l16.6-4z"/><path fill="#fdc743" fill-rule="evenodd" d="M1187.1 138l28.9-1.5l46 0.4l26 1.3l32 4.3l18 3.9l16.9 5.6l13.1 6.4l11.2 7.6l6.2 6l7.9 12l3.8 10l2.2 16l-0.2 14l-2 14l-4.8 12l-6.3 8.8l-4 4l-10 7.4l-12 6.4l-16 5.5l-30 6.1l-8 0.9l-32 1.9l-32 0l-40-0.9l-28-2.5l-24-4.7l-14-4l-10-3.7l-10-5.1l-12-8.7l-7-7.4l-5-8.2l-3.8-11.8l-1.2-10l-0.2-22l2.7-14l4.5-9.8l5.9-8.2l8.1-8.1l5.6-3.9l11.2-6l15.2-5.9l16-4z"/><path fill="#fdbb40" fill-rule="evenodd" d="M1211.9 142l52.1 0.3l24 1.3l24 3.2l14 2.4l16 4l14 5.4l10.6 5.4l9.4 6.5l6 5.9l6.7 9.6l3.9 10l2.2 16l-0.4 12l-2.1 12l-4.3 10.2l-6 8l-6 5.5l-9 6.3l-13 6.3l-14 4.4l-28 5.8l-26 1.9l-16 0.9l-56-0.5l-40-3.2l-24-4.9l-12-3.7l-10-3.7l-10.1-5.3l-10.6-8l-7.2-8l-4.3-8l-3-10l-0.9-12l0.4-18l3.1-12l6.6-11.2l8-8.3l6-4.6l10-5.6l16-6.5l14.7-3.8l9.3-1.6l26-3.3z"/><path fill="#fdab3c" fill-rule="evenodd" d="M1207.5 148l8.5-0.7l44 0.3l28 1.4l40 6.2l16 4.5l16 7.1l8 4.8l8.1 6.4l7.9 9.9l3.6 8.1l2.4 14l0.2 8l-1.7 12l-3.5 10l-3 5l-6.3 7l-9.7 7.3l-8 4.4l-8 3.4l-12 3.8l-30 6.1l-40 2.5l-26 0.3l-44-1.7l-22-2.2l-24-5l-16-5.2l-8.7-3.7l-9.3-5.4l-10-8.6l-5.9-8l-3.3-8l-1.6-8l-0.3-20l2.9-12l4.2-8l6-7l8-7l10-5.8l16-6.7l22-5.2l26-3.6z"/><path fill="#fda03c" fill-rule="evenodd" d="M1195.3 154l24.7-1.3l44 0.2l22 1.3l38 5.8l20.7 6l13.3 6.1l9.4 5.9l6.6 5.8l6.5 8.2l3.5 9.3l1.6 12.7l-1.2 12l-2.5 8l-3.9 6.7l-6 6.5l-8 6.1l-8 4.5l-8 3.3l-14 4.5l-28 5.6l-38 2.6l-26 0.2l-42-1.6l-24-2.5l-24-5.3l-18-6.4l-11.5-6.2l-8.5-6.8l-6-6.8l-3.3-6.4l-2.5-10l-0.2-16l1.5-8l3.5-8l5-6.5l8.4-7.5l9.6-5.9l12-5.4l20-5.7z"/><path fill="#fc9038" fill-rule="evenodd" d="M1216.6 158l47.4 0.1l22 1.4l39.1 6.5l13.6 4l13.3 5.9l7.2 4.1l8 6l6.8 7.4l2.6 4.6l2.3 8l0.8 10l-0.9 8l-2.8 8l-4 5.6l-6.4 6.4l-8.6 6l-9 4.4l-16 5.6l-24 5.2l-24 2.5l-18 1l-24 0l-24-0.4l-18-1.3l-22-2.7l-20-4.6l-21.3-7.7l-10.5-6l-8.2-6.9l-4.3-5.1l-3.7-7.4l-1.4-6.6l-0.1-14l2-8l4.8-8l8.4-8l6-4l11.7-6l8.6-3.4l12-3.5l16-2.9l20-3z"/><path fill="#fc8435" fill-rule="evenodd" d="M1218.3 164l45.7-0.1l20 1.3l30 5.3l12 3.3l11.4 4.2l10.6 5.6l6.3 4.4l5.7 5.3l4.8 6.7l2.5 6l1.2 8l-0.3 6l-1.7 6l-3.4 6l-5.1 6l-7.5 6l-7.1 4l-11.4 4.8l-8 2.6l-18 4l-22 3l-20 1.1l-44-0.4l-18-1.6l-22-3.5l-24-6.6l-12-5.4l-8-4.9l-6.1-5.1l-6.1-8l-2.8-8l-0.4-10l1.4-7.1l3.7-6.9l5.2-6l8-6l10.6-6l10.5-4l16-4.3l18-3.2z"/><path fill="#fb7530" fill-rule="evenodd" d="M1206.5 172l19.5-1.6l44 0.2l14 1.3l21.1 4.1l18.9 5.5l16 8l5.7 4.5l4.3 4.5l3.2 5.5l2.2 6l0.7 6l-1.1 6l-2.6 6l-4.6 6l-7.4 6l-8.4 4.4l-8.5 3.6l-6.8 2l-32.7 6.3l-18 1.3l-42-0.4l-22-2.5l-31.3-6.7l-10.7-3.9l-8-4.1l-8.7-6l-4-4l-3.5-6l-1.8-7.4l0.1-6.6l2.8-8l4.4-6l7.4-6l5.3-3.3l10-4.6l16-5z"/><path fill="#fa6530" fill-rule="evenodd" d="M1231.6 180l38.4 0.2l16 2.4l20.5 5.4l13.5 6.8l6.5 5.2l3.5 3.8l2.5 4.2l1.3 4l0.1 4l-1.2 4l-2.7 4l-6 5.5l-6 3.9l-5.6 2.6l-16.4 5.2l-14 2.7l-12 1.3l-18 0.5l-26-1.4l-22-3.7l-20-6.4l-7.8-4.2l-4.2-3.1l-5.1-4.9l-2.5-4l-0.8-4l0.7-4l1.6-4l2.7-4l5.4-4.9l7.9-5.1l14.1-5.7l18-4.2z"/><path fill="#f9542c" fill-rule="evenodd" d="M1228.9 198l11.1-1.3l22 0l18 2.4l16 4.5l4 1.8l6.4 4.6l0.9 2l-0.3 2l-1.6 2l-3 2l-10.4 4.1l-12 2.6l-14 2l-28-0.1l-26-4.4l-8-2.4l-8.3-3.8l-2.1-2l-0.6-2l0.9-2l10.1-6.1l16-4.4z"/></g></g><rect x="222" y="843.6" width="1960" height="379.6" fill="#020efd"/><filter id="fb" x="0" y="0" width="1" height="1" color-interpolation-filters="sRGB"><feGaussianBlur stdDeviation="1.3"/></filter><g filter="url(#fb)"><rect x="830" y="860" width="770" height="340" fill="#020efd"/><path fill="#0e24f8" fill-rule="evenodd" d="M1194.4 886l7.6-1.1l148 0l34 6.2l42 10l40 13.7l24 12l22 15l18 15.7l3.6 4.5l0.2 22l-9.7 20l-18.1 18.6l-14 19.9l-26 22.3l-16 11.2l-18 16.9l-22 14.3l-70 36l-20 7.4l-24 7.4l-22 5.2l-20 3.1l-8-0.2l-14-1.7l-16-2.8l-34-8.6l-16-4.8l-6-2.6l-43.4-23.6l-28.6-14.7l-30-17.3l-15.9-8l-38.5-16l-35.6-12.7l-46-21.6l-17.5-15.7l-12-12l-10.9-14l-5.7-8l-3.1-6l-5-12l-0.9-4l2.2-10l1.6-4l12.1-18l3.2-3.2l28-11.7l34-8l6-1.1l8 0l6-1.1l26-1.1l4-0.9l26-1.1l4-0.9l90-1.1z"/><path fill="#102ff8" fill-rule="evenodd" d="M1199 886l151-0.2l40 7.4l36 8.7l40 13.8l24 12.1l22 15l17.4 15.2l3.3 4l0.6 4l-0.2 18l-9.9 20l-17.8 18l-14 20l-25.4 21.5l-16 10.5l-20 17.1l-21 12.9l-11 6l-60 28.7l-26 8.4l-24 6.4l-16 3.3l-20 2.8l-20-1.8l-18-3l-16-3.4l-30-7.8l-12-5.1l-66-33.3l-32-17.6l-14-6.5l-37.8-15.1l-38.2-13.6l-46-21.6l-16.4-14.8l-12-12l-14-18l-5.9-10l-5.7-14l0-4l3.6-12l12.2-18l2.2-2.2l28-11.9l38-9l26-1.2l6-1l10-0.1l4-0.8l10-0.1l6-1l10-0.1l6-0.9l40 0l6-1l42-0.1z"/><path fill="#103af8" fill-rule="evenodd" d="M1191.9 888l10.1-1.5l148 0.1l38 6.9l38 9.2l40 13.8l22.9 11.5l23.1 15.7l16.3 14.3l3.6 4l0.6 4l-0.2 18l-10 20l-17.9 18l-14 20l-24.4 20.3l-15.6 9.7l-20.4 15.9l-22 12.9l-18 9.4l-52 23.2l-20 6.3l-24 6.2l-22 4.5l-20 2.8l-20-1.7l-16-2.4l-16-3.1l-32-7.4l-10-4l-50-23.8l-50-25.3l-49.3-19.5l-38.7-13.6l-48-22.4l-28-26.6l-12-15.4l-4.3-6l-3.2-6l-5.8-14l-0.2-2l2.2-10l1.8-4l12.3-18l2.3-2l26.9-11.3l38-9l26-1.2l6-1l10-0.1l4-0.8l10-0.1l6-1l10-0.1l6-0.9l40 0l6-1l42-0.1z"/><path fill="#1053f9" fill-rule="evenodd" d="M1196.8 888l5.2-0.8l148 0.1l38 7l38 9.2l40 13.8l22 11.1l23.1 15.6l19.9 18l0.8 4l-0.3 18l-9.5 19l-18.6 19l-13.4 19.3l-22 18.3l-17 10.4l-23 16.4l-36 19l-38 16.3l-20 8l-24 6.4l-32 6.9l-26 3.8l-20-1.6l-16-2.2l-32-5.9l-18-4.1l-56-24.7l-52-24.8l-54-20.2l-34-11.8l-46.4-21.5l-17.6-15.7l-12-12l-14.1-18.3l-4.6-8l-5.3-12.7l-0.5-5.3l2-8l1.8-4l12.4-18l2.3-1.6l26-10.9l38-9l26-1.3l6-1l10 0l4-0.9l10-0.1l6-1l10 0l6-1l40 0l6-1l42 0z"/><path fill="#1067fd" fill-rule="evenodd" d="M1201.1 888l148.9 0.1l38 7l38 9.2l39.6 13.7l22.4 11.3l22 14.9l20.1 17.8l0.9 4l-0.4 18l-8.9 18l-19.3 20l-12.4 18.1l-22 18.4l-5 3.5l-14.3 8l-20.7 13.7l-48 22.8l-46 17.7l-40 9.2l-40 6.5l-6 0.2l-32-3.5l-50-8.8l-42-17.3l-50-22.4l-16-6.5l-88-30.9l-46-21.5l-2.1-1.2l-15.1-14l-12.8-13l-16-21.4l-8-19.6l2.3-10l1.7-3.6l11.3-16.4l2.7-2.7l26-11l38-9l12-0.3l4-0.9l12-0.3l4-0.8l10 0l4-0.9l12-0.3l4-0.8l10 0l6-1.1l88-0.9z"/><path fill="#108eff" fill-rule="evenodd" d="M1193.8 890l8.2-1.1l146 0l40 7l38 9.4l41.6 14.7l19.9 10l22.5 15.4l16.8 14.6l3.2 4l-0.3 20l-9.1 18l-18.6 19.1l-13.2 18.9l-24.6 20l-12.2 6.4l-26 15.5l-46 19.4l-17.4 6.7l-30.6 10.5l-40 8.1l-40 6l-36-3.1l-49.9-7.5l-40.1-15.3l-52-21.3l-103.3-35.4l-46.7-21.7l-16-14.4l-13.7-13.9l-14.9-20l-3.4-6.7l-5-13.3l3-11.6l12-17.9l2.5-2.5l25.5-10.7l39-9.3l27-1.2l4-1l10 0l36-2.9l40-0.1l8-1l40 0z"/><path fill="#19c2ff" fill-rule="evenodd" d="M1200.8 890l147.2-0.1l40 7.2l36.7 8.9l40.3 14l23 11.8l20.7 14.2l18.4 16l1.4 2l-0.2 20l-8.3 16.6l-18.8 19.4l-14.2 20l-23 18.3l-38 20.3l-48 17l-46 14.8l-56 9.2l-26 3.4l-6-1l-10-0.2l-6-1.1l-10-0.3l-6-1.1l-10-0.5l-6-1.2l-28-2.8l-78-27.2l-30-9.9l-32.9-9.7l-52.6-18l-14.4-6l-34-16l-3.2-2l-10.9-10.8l-4-3l-12.2-12.2l-15.8-21.3l-7.9-18.7l1.9-8.1l2-4.6l12-17.4l27.6-11.9l33.7-8l4.7-1l10-0.1l6-1l10-0.1l20-2l24-1l6-1l88-1.2z"/><path fill="#2fecff" fill-rule="evenodd" d="M1199.3 892l4.7-0.5l144 0.1l40 6.8l38 9.5l38.8 14.1l21.2 11.2l20.3 14.8l9.7 8.6l8.8 9.4l-0.3 16l-8.7 18l-17.2 18l-13.1 18l-23.5 18.7l-38 17.7l-34 9.8l-62 15.4l-74 9.3l-16-0.1l-6-0.9l-28-1l-4-0.8l-28-1.1l-76-19.3l-60-16.3l-59.4-19.4l-14.6-6l-37.1-18l-15.3-14l-11.6-11.6l-14-18.4l-4-7.2l-4.8-12.8l2.8-10.8l11.4-17.2l7.2-4l18.4-8l39-9.6l26-1.3l4-0.9l26-1.3l20-1.9l88-1.4z"/><path fill="#41f8f6" fill-rule="evenodd" d="M1201.7 894l144.3-0.2l44 6.8l36.5 9.4l29.5 11.3l8 3.7l21.3 13l18.7 16.7l10.5 13.3l1.5 4l-0.3 6l-7.6 18l-28.4 34l-19.7 15.7l-8 4.2l-38 15.7l-38 11.6l-32 8.9l-16 3.7l-76 9.9l-78-3.3l-78-17.7l-58-16l-64-20.9l-46-22.7l-16-14.3l-10-10.1l-15.6-20.7l-5.4-14l1.6-8l9.2-16l2.2-2.1l6.1-3.9l17-8l6.9-2.4l30-7.2l72-5.4l4-0.8l88-1.7z"/><path fill="#50f8e8" fill-rule="evenodd" d="M1193.1 898l10.9-1.5l142 0l44 5.8l34 9l7.5 2.7l24.5 10.3l19.3 11.7l7.6 6l16.3 18l6.6 12l0.7 2l-0.4 4l-4.6 12l-9.5 14l-20 22l-12 9.5l-6 3.8l-36 14.8l-22 8l-60 18.4l-12 2.3l-70 9.5l-6 0.3l-74-2.9l-76-15.3l-70-20l-44-14.1l-18-8l-34-17.5l-24-21.4l-14-17.7l-3.8-5.7l-2.4-6l-1.2-6l1-4l7.3-14l3.4-4l5.3-4l14.4-7.4l8-3.2l28-6.8l76-6.9l88-2.3z"/><path fill="#50f8ce" fill-rule="evenodd" d="M1197.1 900l8.9-0.9l140 0.1l42 4.5l38 10.4l27.2 11.9l8.8 5.3l12.2 8.7l7.7 8l9.9 14l2.5 6l1.9 10l-2.6 8l-6.4 12l-3.2 4.1l-18 18.3l-10 7.8l-10 5.1l-26 9.3l-30 12.4l-56 18.4l-84 12.1l-78-2.7l-74-13.1l-68-20l-44-13.9l-40-19.7l-12-7.1l-21.8-19l-15.8-20l-3.7-8l-0.5-4l0.4-2l5.4-11.8l4.1-6.2l3.9-3.6l20-10.6l26-6.8l78-7.8l88-3l6-0.9l30-1.6l10-1.4z"/><path fill="#50f8b6" fill-rule="evenodd" d="M1201 902l145-0.2l42 3.5l36 10.2l12 5.1l16 7.8l18 13.2l4.4 4.4l10 16l1.4 6l0.4 12l-3.4 10l-3.1 6l-18.9 18l-8.8 6.9l-4 2.1l-32 10.9l-32 14.1l-52 18.4l-82 11.9l-14-0.9l-64-1.2l-74-11.3l-110-33.5l-38-19.3l-12-7.3l-22-18.7l-14.6-18.1l-2.5-4l-1.2-4l0.7-4l4-10l3.3-6l3.7-4l18.6-10.6l24-6.3l78-8.6l70-2.7l4-0.7l14-0.2l6-0.8l70-3.1z"/><path fill="#50f69f" fill-rule="evenodd" d="M1201.8 904l144.2-0.1l22 1.2l4 1l16 0.6l40 12.2l22 11.3l19.3 15.8l3.7 6l5.4 12l-1.2 14l-2 10l-1.6 4l-1.6 1.8l-20 16.8l-6 4l-32 9.9l-32 15l-52 19.7l-80 11.8l-6-0.7l-74-0.6l-56-7.7l-14-1.3l-108-33.1l-6-2.3l-34-18.3l-10-6.5l-22.4-18.5l-13.6-16.8l-2.9-5.2l5.8-18l3.1-3.9l18-11.3l24-6.3l76-9l88-3.9l6-1l34-0.5l6-1l32-0.4z"/><path fill="#50f289" fill-rule="evenodd" d="M1194.9 906l9.1-1.2l142 0l8 1.2l32 1.5l40 11.9l24 12.9l16 13.9l2.7 3.8l5.6 12l0.5 4l-3.7 20l-1.1 3.2l-10 9.8l-16 11.5l-30.8 9.5l-17.2 9l-14 6.4l-52 20l-80 11.3l-78-0.3l-72-8.6l-48-15.3l-64-19.3l-34-19.3l-10-6.8l-22-18.2l-14.1-18.9l-0.1-2l4.2-14.4l2.5-3.6l15.5-10.9l24-7.2l76-9.6l14-0.1l4-0.8l32-1.3l6-0.9l34-1.2l4-1z"/><path fill="#52f077" fill-rule="evenodd" d="M1199.9 906l146.1-0.4l6 0.8l14 0.5l6 1l14 0.5l8 2l32 10.3l23.7 13.3l15.2 14l7 14l0.5 4l-4.2 22l-3.1 4l-6.2 6l-14.9 10.5l-30 10.2l-16 8.3l-18 8.1l-40 15.3l-12 3.7l-78 10.5l-78-0.1l-70-8.1l-48-15.5l-66-19.5l-12-6.5l-22-14.2l-8-6l-21.9-18.7l-11.4-16l-0.4-2l1.4-6l2.8-8l2-2l13.5-11l12.6-5l9.4-2.7l18-3.1l58-7.2l34-1.3l4-0.9l52-2.4l4-0.9l72-0.9z"/><path fill="#56f067" fill-rule="evenodd" d="M1123.8 908l72.2-0.9l8-0.9l142 0l44 3.9l34 10.9l24 13.8l8 6.8l8 8.6l6.3 13.8l-3.6 22l-3.7 6l-3.6 4l-15.4 10.7l-30 11l-18 9.6l-16 7l-40 15l-12 3.4l-78 10.2l-76-0.1l-72-8.2l-46-15.2l-64-18l-10-4.4l-30-21.3l-24-20.7l-8.3-11l-2.8-6l0.1-2l3.6-10l12.2-12l11.1-6l12.1-3.7l18-3.5l56-7.1l34-1.5l4-0.9l52-2.6z"/><path fill="#5af057" fill-rule="evenodd" d="M1160.9 908l35.1-0.3l8-1l144 0l42 4.2l34 11.3l22.9 13.8l7.3 6l8.5 10l5.5 12l-3.1 20l-2.7 6l-4.4 5.8l-16 10l-28 11.2l-18 9.8l-14 6l-42 15.6l-12 3l-78 9.7l-76 0l-62-6.6l-10-1.7l-46-15.5l-64-17.5l-10-4.2l-24-18.6l-28.1-25l-4.8-6l-3.6-8l-0.2-2l2-6l9.8-12l10.4-8l11.5-4l19-4.5l56-7.2l34-1.7l4-0.7l52-2.9l4-0.7z"/><path fill="#5ef049" fill-rule="evenodd" d="M1198.3 908l5.7-0.9l144 0.1l4 0.9l36 3.2l6 1.5l30 10.6l22 13.9l7.7 6.7l7.8 10l4.6 10l-3 20l-3.7 8l-3.4 4l-14 8.2l-16 6.3l-12 5.7l-18 10.1l-16 6.7l-36 13.1l-14 3.6l-82 9.7l-74 0l-62-6.5l-8-1.4l-46-15.7l-66-17.5l-8-3l-4.8-3.3l-19.2-16.8l-27.1-25.2l-4.9-6l-2.2-6l0.4-4l2-4l7.4-10l8.1-8l10.3-4.2l20-5.6l56-7.3l34-1.9l22-2.1l34-1.5l4-0.8z"/><path fill="#63f03d" fill-rule="evenodd" d="M1200 908l148-0.4l42 4.8l34 12.3l20.2 13.3l7.3 6l8.5 11.6l4.1 8.4l-3.1 20l-2.1 6l-2.9 4.7l-14 7.8l-17.5 7.5l-28.8 16l-15.7 6.4l-40 14.2l-12 2.2l-80 8.9l-74 0l-64-6.6l-8-2.1l-44-15.3l-66-17l-8-2.7l-2.7-2l-47.3-45.8l-2-2.4l-1.6-3.8l-0.3-4l1.8-4l6.3-10l7.8-9.5l28-9.5l56-7.5l34-2.1l20-2l36-1.7l4-0.8l72-0.4z"/><path fill="#6bf035" fill-rule="evenodd" d="M1120.1 910l3.9-0.8l72-0.3l8-0.8l142 0l44 4.9l32 11.7l27.5 19.3l8.4 12l4.2 8l-3 20l-2.5 8l-2.6 2.8l-12 6.3l-16 6.9l-31.4 18l-15.3 6l-40.6 14l-90.7 10l-76 0l-62-6.4l-52-18l-66-16.4l-8-2.7l-28-29.7l-20-19.5l-1.8-3.3l-0.1-2l4.4-10l8.4-14l27.1-10.2l56-7.8l34-2.1l20-2.2z"/><path fill="#73f22d" fill-rule="evenodd" d="M1121.4 910l74.6-0.7l8-0.8l142 0l44 5.1l32 12.1l22 15.6l5.4 4.7l11 18l-4.3 26l-0.8 2l-2 2l-13.3 7l-16 7l-30.7 18l-44.7 16l-10.6 3.2l-90 9.4l-76 0l-62-6.5l-52-18.3l-72-17.8l-2.8-2l-24.2-28l-21.3-22l1.7-6l8.6-18.5l2.4-1.5l25.6-9.8l54-7.6l8-0.2l46-4.3z"/><path fill="#7cf624" fill-rule="evenodd" d="M1123.1 910l72.9-0.3l8-0.8l144 0l42 5.4l32 12.5l25.7 19.2l10.9 18l-0.4 6l-3.5 20l-0.9 2l-2.6 2l-9.2 5.2l-18 7.8l-20 11.5l-8 5.6l-16 6.3l-42 13.8l-92 8.9l-74 0.1l-30-2.9l-32-4l-50-17.6l-43.4-10.7l-30.6-8.8l-25.6-29.2l-17-18l-1.5-2l-0.2-2l8.3-20.3l6-3.3l20-8.8l54-8.4l8-0.2l46-4.7z"/><path fill="#87f81c" fill-rule="evenodd" d="M1139.8 910l56.2 0.1l8-0.8l144 0.1l42 5.5l9.2 3.1l22.8 9.8l24 18.6l7.6 11.6l3.1 6l-0.3 6l-2.8 18l-2 4l-8.8 6l-20.8 9l-18 10l-9.8 7l-15.8 6l-28.4 9.4l-12 3.3l-92 8.7l-72 0.2l-22-1.6l-40-5.3l-52-17.8l-44-11.3l-28-9.5l-35.3-38.1l-6.2-8l-0.6-2l0.3-2l3.9-10l3.3-6l17.7-10l6.9-3l52-9.2l8-0.3l46-5l22-0.8l18-1.5z"/><path fill="#94f816" fill-rule="evenodd" d="M1200.5 910l147.5-0.2l40 5.3l6 1.6l28 12.3l23.3 19l6.7 10.5l2.7 5.5l0.2 4l-3.2 20l-2.4 4l-7.3 5.7l-18 7.1l-16 7.8l-16.6 11.4l-11.4 4.4l-30 9.7l-12 3l-12 1.4l-80 7.1l-72 0.3l-22-1.5l-38-5.6l-54-17.8l-42-11.3l-28-10.8l-31.7-32.9l-7.3-10l-0.9-2l0.1-2l5.1-12l2.7-2.6l14.5-9.4l5.5-2.8l44-9.5l60-6.8l24-0.8l18-1.6z"/><path fill="#9ff811" fill-rule="evenodd" d="M1108.5 912l31.5-1.4l206-0.4l44 5.9l8 2.6l23.6 11.3l22.4 18.9l7.1 11.1l2 6l-3.1 21.4l-2.8 4.6l-5.2 4.9l-18.8 7.1l-17.2 7.7l-12 9.3l-6 3.4l-38 12.3l-14 3l-38 4.1l-18 0.9l-34 3l-56 0.8l-38-1.7l-40-6.6l-50-16.5l-44-12.3l-24-10.3l-6-4.6l-27.8-28.5l-5.1-8l-1-4l4.4-10l15.5-12l6-3.1l36-9.2l14-2.5l52-6z"/><path fill="#b2f810" fill-rule="evenodd" d="M1109.5 912l30.5-1.1l206-0.3l42 5.7l10 2.9l22 11l9.8 7.8l13 12l6.4 10l2.1 6l-2.8 20l-1.7 4l-4.8 6.1l-36.6 13.9l-5.4 3.7l-7 6.3l-5 3.2l-38 12.1l-10 2.1l-42 4.9l-18 0.7l-4 0.8l-30 2l-56 1l-38-1.5l-38-6.9l-52-16.6l-42-12.2l-24.5-11.6l-5.2-4l-26.4-26l-4.2-6l-1.7-6l2-5.3l1.8-2.7l13.7-12l4.5-2.9l12-3.6l26-7.4l12-2.1l52-6.6l24-0.8z"/><path fill="#c8f810" fill-rule="evenodd" d="M1111.4 912l28.6-0.8l206-0.2l42 5.9l8 2l24 12.5l19.1 16.6l8.3 12l1.8 4l0.2 4l-2.3 16l-2.1 6l-2.3 4l-2.7 2.7l-36 12l-4 2.8l-6.8 6.5l-7.2 4.9l-36 11.1l-8 1.6l-46 5.3l-16 0.4l-6 0.9l-28 1.7l-56 1.2l-40-1.6l-36-7.4l-92-28.2l-6-2.6l-20-11.1l-6-5l-24.2-23.2l-2.7-4l-1.2-6l1.6-4l1.6-2l14.9-14.4l38-12.6l14-2.5l50-6.9l24-0.7z"/><path fill="#ddf810" fill-rule="evenodd" d="M1122.5 912l225.5-0.5l46 7.3l26 13.7l18.9 17.5l8.5 14l0.2 4l-2.3 16l-2.6 8l-2.7 4l-36 10.7l-4 2.5l-6.7 6.8l-7.3 5.8l-36 10.9l-52 6.6l-18 0.3l-6 1l-20 0.5l-8 0.9l-22 0.1l-6 0.7l-24 0.1l-4 0.5l-36-1.1l-8-1l-38-9l-30-8.9l-58-18.7l-24-14.7l-26.3-24l-3.3-4l-0.7-2l1-6l10.1-12l5.2-5l38-13.7l62-9.5l24-0.6l6-0.9z"/><path fill="#f1ef10" fill-rule="evenodd" d="M1138.6 912l209.4-0.1l46 7.3l26.6 14.8l14.7 14l3.3 4l6.4 10l1 4l-3.6 24l-1.6 4l-3 2l-35.8 9.6l-16 15l-36 10.9l-10 1.5l-42 4.9l-18 0.2l-6 1l-20 0.3l-6 0.9l-24 0.1l-6 0.9l-28 0.5l-40-1.1l-38-9.4l-34-9.7l-56-18.4l-28-19.2l-22.4-20l-2.7-4l0.2-2l2.1-4l5.9-8l6.9-7.9l36-14l62.6-10.1z"/><path fill="#f8e010" fill-rule="evenodd" d="M1094.5 914l45.5-1.8l208 0.1l46 7.4l26 14.9l15.6 15.4l2.8 4l4.9 8l1.2 4l-3.3 24l-1.4 4l-3.8 1.8l-34 8.3l-2.9 1.9l-14.3 14l-36.8 10.7l-50 6.2l-44 1.2l-6 1l-24 0.1l-6 0.8l-28 0.4l-40-1l-70-18.5l-36-11.7l-22-8.1l-28-20.6l-20-17.5l-2.2-3l1.6-4l10.9-16l35.7-15.2l50-8.8l14-1.7z"/><path fill="#fbd210" fill-rule="evenodd" d="M1108.1 914l3.9-0.6l28-0.8l208 0.1l46 7.6l26 15.2l15.6 16.5l6.4 10.9l0.8 3.1l-2.7 24l-2.1 4.1l-12 3.7l-26 5.9l-7.1 6.3l-6.9 7.8l-2 1.3l-14 4.7l-22 5.9l-50 6.2l-20 0.2l-4 0.8l-20 0.3l-6 0.9l-58 1.2l-40-1.1l-70-18.5l-34-10.9l-22-8.3l-28-20.5l-14-12.3l-7.6-7.7l1.6-4l10-15.2l34-15.3l28-5.3l34-5.3z"/><path fill="#fcbe10" fill-rule="evenodd" d="M1110 914l30-1.1l208 0.1l46 7.9l12.8 7.1l13.2 8.5l14 15.5l6.5 12l0.3 2l-2.4 24l-0.7 2l-1.7 1.3l-7 2.7l-29 6.5l-9.4 7.5l-4.9 6l-2.5 2l-11.2 4.2l-24 6.5l-50 6.1l-20 0.4l-6 0.9l-18 0.2l-6 0.9l-58 1l-36-0.7l-7.9-1.5l-66.1-17.2l-36-11.5l-17.7-7.3l-4.3-2.5l-26-19.5l-13.2-12l-5.2-6l0-2l0.9-2l8.8-14l12.7-6.8l20-8.9l56-10.3z"/><path fill="#f9a910" fill-rule="evenodd" d="M1113.6 914l26.4-0.7l208 0.1l46 8.2l12 6.7l14 9.3l12.3 14.4l2.3 4l4.1 10l-2.2 24l-2.5 2.6l-8 3.5l-26 5.2l-10 6.7l-6 7.2l-4.3 2.8l-9.7 3.9l-22 5.7l-50 6.2l-44 1.6l-6 0.9l-52 1l-42-1.1l-6-1.1l-60-15l-46-14.3l-18-8.7l-22-16.3l-12-10.2l-6.5-6.6l-2.9-4l-0.4-2l0.8-2l7-12.1l12-7.5l22-9.9l57.2-10.5l28.8-1z"/><path fill="#f89810" fill-rule="evenodd" d="M1136.2 914l211.8-0.3l45.1 8.3l12.9 7.1l13.1 8.9l3.9 4l7.5 10l3.3 6l2.9 8l-1.5 22l-1.2 2.4l-5.7 3.6l-4.3 1.8l-24 4.3l-2 0.8l-11.1 7.1l-4.3 6l-2.5 2l-8.1 4.2l-24 6.2l-34 4.4l-16 1.9l-44 1.8l-6 0.9l-52 1l-42-1.6l-36-7.9l-42-11.2l-32-9.9l-7.9-3.8l-11-6l-26.7-20l-12.3-12l-2.9-4l-0.4-2l6-12l4.5-4l6.7-4.3l22-10.3l60-11.4z"/><path fill="#f88810" fill-rule="evenodd" d="M1102.7 916l37.3-1.9l206 0l42 7.4l7.8 2.5l20.2 12.7l5.8 5.3l7 10l3.3 6l2.6 8l-1.6 22l-4 4l-5.1 2.9l-24 4l-2.9 1.1l-11 6l-2.1 2l-4.1 6l-3.9 3.1l-4 2.1l-24 6l-34 4.5l-16 1.9l-44 2l-8 1l-50 0.9l-42-2l-32-6.6l-42-11l-38.3-11.9l-15.7-9.2l-22.8-16.8l-11.3-10l-4.9-6l-1.8-4l4.5-10l6-6l6-4l20.3-9.7l60-11.5z"/><path fill="#f87610" fill-rule="evenodd" d="M1111.7 916l30.3-1.5l206 0l40 7.6l6 1.8l14 8.1l10 7.4l4.1 4.6l7.4 12l3.1 10l-1 20l-2.5 4l-5.1 4.1l-24.9 3.9l-13.1 5.8l-3.3 2.2l-5.2 8l-5.5 4.1l-24 5.9l-18 2.6l-32 3.9l-26 1.6l-18 0.6l-8 1l-50 0.9l-42-2.5l-34-6.7l-40-10.4l-36.8-11l-12.9-8l-26.3-19.3l-11.8-10.7l-4-6l-0.6-2l1.3-4l3.1-5.9l5.9-6.1l4.1-2.9l20-9.9l6-1.8l54-9.9z"/><path fill="#f86410" fill-rule="evenodd" d="M1117.5 916l24.5-1.1l206 0.1l40 7.8l6 1.9l12.7 7.3l10.7 8l3.5 4l6.9 12l2.9 10l-0.7 18l-2.9 6l-3.1 3l-4 1.2l-22 2.9l-16 6.5l-2 2.1l-4.5 8.3l-2 2l-3.5 1.8l-22 5l-18 2.7l-32 4l-44 2.3l-6 0.8l-52 1l-42-2.8l-32-5.9l-40-10.3l-38-11l-11.6-7.6l-10.4-8.4l-18-12.8l-10-9.2l-2.6-3.6l-1.5-4l3.2-8l6.7-8l16.2-8.9l10-4.4l56-10.5z"/><path fill="#f84f10" fill-rule="evenodd" d="M1128.4 916l13.6-0.7l206 0.1l40 8.1l6 2.1l12 6.8l10 7.6l3.8 4l6.4 12l1.4 4l1.4 8l-0.9 16l-2.6 6l-1.6 2l-1.9 0.9l-24 3l-18.2 6.1l-1.7 2l-4.4 10l-3.7 2.7l-22 4.9l-18 2.9l-32 3.9l-44 2.5l-6 0.8l-52 0.9l-42-3.2l-32-5.5l-40-10.2l-38-10.9l-9.6-6.8l-12-10l-17-12l-10.7-10l-2.6-6l2-6l7.5-10l24.4-12.4l56-10.6z"/><path fill="#f83910" fill-rule="evenodd" d="M1139.3 916l208.7-0.2l40 8.4l6 2.3l12 6.8l8.7 6.7l3.9 4l7.3 16l1.2 10l-1 14l-2 6l-2.1 2l-24 2.7l-20 5.4l-1.8 1.9l-4.1 12l-2.1 1.7l-40 7.7l-32 3.9l-44 2.7l-6 0.8l-52 0.8l-42-3.6l-32-5.1l-40-10.2l-37.9-10.7l-20.1-16.8l-16.2-11.2l-4.6-4l-7.9-8l-1.1-4l0.4-2l5.3-10l3.7-4l18.7-10l5.7-2.2l54-10.1z"/><path fill="#f82410" fill-rule="evenodd" d="M1115.7 918l26.3-1.7l204 0l38.3 7.7l6.8 2l14.6 8l8.3 6.6l4 4.3l6.3 15.1l0.8 8l-0.1 10l-1.5 10l-0.7 2l-2.8 1.7l-22 1.9l-22 4.4l-1.9 2l-2.5 12l-1 2l-2.6 1.1l-38 7.2l-30 3.8l-52 3.9l-52 0.6l-40-3.7l-34-5l-76.4-19.9l-9.9-8l-10.7-10l-17.4-12l-10.3-10l-1-4l1.2-4l5.5-10l13.8-8l11.2-5.4l52-9.8z"/><path fill="#f51510" fill-rule="evenodd" d="M1127.4 918l16.6-1l204 0.1l32 6.7l8.9 2.2l15.1 7.9l12.2 10.1l2.1 4l4.5 12l0.4 18l-0.9 10l-1 2l-1.3 0.7l-22 1.7l-24.2 3.6l-1.9 2l-1.5 14l-2.4 2.1l-38 7.2l-32 4l-8 0.1l-4 0.8l-8 0.2l-30 2.7l-52 0.5l-40-4l-34-4.7l-76-19.7l-8.6-7.2l-11.4-11.3l-18-12.4l-8.5-8.3l-1.2-2l0-2l4.9-12l1.7-2l23.1-12.4l52-10z"/><path fill="#f60610" fill-rule="evenodd" d="M1139.6 918l208.4-0.2l36.8 8.2l5.8 2l14.4 8l7.3 6l3.7 4.1l4.9 13.9l0.3 18l-0.6 10l-0.6 1l-2 0.6l-20 1.4l-4 1.2l-8 0.5l-14 2.2l-1.2 1.1l-0.5 2l-1 12l-1.3 2.7l-38 7.5l-32 4.1l-46 3l-4 0.9l-52 0.3l-40-4.1l-33.5-4.4l-8.1-2l-68.4-17.9l-18-18.1l-19.8-14l-6.2-6.3l-1.3-1.7l0.1-2l3.2-9.6l2-3l12.4-7.4l9.6-4.9l54-10.6l20-1.1z"/><path fill="#f80010" fill-rule="evenodd" d="M1140.6 920l133.4-0.6l74 0.9l39.1 9.7l14.9 8.2l8 6.9l2.4 2.9l4.7 14l-0.1 22l-1.4 2l-9.6 2.1l-34.8 5.9l-1.7 2l-2 14l-3.1 2l-34.4 6.7l-24 3.4l-58 4.7l-52 0.3l-14-1.1l-50-6l-11.9-2l-45.6-12l-26.5-8.4l-5.8-5.6l-12.2-14.9l-17.6-15.1l-2.9-4l0.1-2l1.4-4l4.1-4l14.9-9.7l10-3l42-9.9z"/><path fill="#f80010" fill-rule="evenodd" d="M1142.6 924l41.4-1.1l92 0l32 0.6l40 2.1l36 9.2l16 9.2l6 6l4.2 10l1.1 6l-0.1 12l-1.2 2.3l-6 3l-12.7 4.7l-21.3 5.7l-1.4 2.3l-3.5 12l-2.9 2l-34.2 7.3l-22 3.1l-22 2.3l-38 2.6l-52 0l-20-2l-50-6.5l-28-7.1l-16-4.9l-17.9-6.8l-12.1-5.7l-3.8-4.3l-12.1-18l-10.4-12l-0.6-2l3.7-4l7.2-5.4l18-7.1l16-5.1l16-3.9z"/><path fill="#f80010" fill-rule="evenodd" d="M1145.8 928l40.2-1.3l88 0l34 1l38 2.7l18 4.2l16 4.6l6.2 2.8l9.4 6l5.5 6l1.9 4l2.2 8l0 8l-1.2 2l-12.1 8l-12.2 6l-9.7 3.1l-2.3 2.9l-5.7 10.9l-18 5l-24 4.5l-36 4.5l-52 2.7l-40-0.5l-60-7.1l-20-4.2l-24-7.2l-16-6.2l-15.4-8.4l-2.9-2l-3.3-4l-12.9-26l0.4-2l2.1-1.6l10.7-6.4l11.3-5.2l14-4.8l10-2.5l12-1.9z"/><path fill="#f80010" fill-rule="evenodd" d="M1149.5 932l36.5-1.4l88 0l32 1.2l38 3.5l20 4.5l12 3.7l8 3.7l7.1 4.8l3.8 4l3.1 6l1.3 6l-1.6 4l-6.9 8l-10.9 8l-9.9 4.4l-1.9 1.6l-8.1 10.7l-16 4.9l-18 3.9l-42 5.6l-52 2.5l-38-0.5l-6-0.9l-12-0.5l-44-5.8l-18.3-3.9l-21.7-6.6l-16-6.7l-7.9-4.7l-8.1-6l-4-4.2l-5.7-15.8l-0.9-6l1.4-2l4.8-4l6.4-4l18-7.5l18-3.9z"/><path fill="#f80010" fill-rule="evenodd" d="M1151.5 936l34.5-1.6l88 0l32 1.5l32 3.7l24 4.9l12 3.9l6 2.9l6.8 4.7l3.2 3.6l1.8 4.4l-0.2 4l-1.9 6l-5.7 8l-6.7 6l-9.3 5.1l-10 9.6l-16 5.2l-16 3.5l-44 6.1l-50 2.1l-6-0.5l-32 0l-6-1l-12-0.4l-24-3.1l-20-2.9l-18-3.8l-22-7.1l-14-6.6l-8.5-6.2l-4.3-4l-3.1-4l-2.1-6l-1.7-10l2.1-4l5.6-4.7l5.7-3.3l10.3-4.4l20-4.7z"/><path fill="#f80010" fill-rule="evenodd" d="M1153.8 940l10.2 0l22-1.7l88 0l6 0.8l24 0.9l14 1.7l34 5.6l8 2l12 4.1l6 3.3l4.4 3.3l2.7 6l0.5 6l-3.2 8l-5.1 6l-19.3 13.7l-16 6l-10 1.8l-8 2.3l-42 5.9l-50 1.9l-38-0.5l-4-0.9l-14-0.4l-22-2.9l-20-2.9l-20-4.3l-20-6.8l-8-3.7l-8.4-5.2l-8.1-8l-2.1-4l-1.6-10l0.9-4l3.8-4l5.5-3.6l8-3.8l10-3.2l14-2.7z"/><path fill="#f20010" fill-rule="evenodd" d="M1184.1 942l9.9-0.7l78 0l6 1l26 1.2l12 1.8l34 6.2l8 2.1l11.7 4.4l8.6 6l1.7 2.7l1.5 5.3l-1.5 6.6l-1.9 3.4l-3.6 4l-11.1 8l-7.4 4.3l-16 5.8l-8 1.3l-8.7 2.6l-19.3 3.1l-22 2.9l-12 0.3l-6 0.9l-64 0l-22-1l-44-6.2l-10-2.8l-8-1.3l-16-5.5l-10-4.4l-6.4-4l-5.6-4.7l-5.2-7.3l-0.6-8l1.3-4l2.5-2.5l8.9-5.5l10.7-4l8.4-2l24-4.5l26-4z"/><path fill="#e8000f" fill-rule="evenodd" d="M1192 944l80-0.2l4 0.8l26 1.6l14 1.9l28 5.6l14 4.4l9.8 5.9l4 4l1.8 4l-0.1 4l-2.9 6l-3.2 4l-7 6l-7.4 4l-13 5.2l-16 4.2l-34 5.6l-22 1.3l-4 0.9l-62 0l-24-1.5l-38-5.6l-6-1.1l-20-5.7l-12-5.4l-6.1-3.9l-6.6-6l-4-6l-1.3-4l0.3-2l2.6-4l3.1-2.9l8-5.3l8-3.3l16-4.3l28-5z"/><path fill="#da000c" fill-rule="evenodd" d="M1176.7 948l19.3-1.9l74 0l26 2.1l10 1.8l8 0.6l24.8 5.4l17.2 6.3l6.7 5.7l2.1 4l0.4 4l-2.3 6l-4.7 6l-10.2 6.3l-8 3.3l-16 4.7l-22 4.1l-12 2l-22 1.1l-6 1l-58 0l-30-2.2l-38-6.7l-14-4.1l-8-3.3l-8-4.7l-6.1-5.5l-2.4-4l-0.8-6l0.9-4l3.4-4l5.8-4l11.2-4.6l32-6.9z"/><path fill="#cb0009" fill-rule="evenodd" d="M1183.6 950l14.4-1.4l18-0.5l48 0l32 3l15.9 2.9l10.8 4l17.3 9.5l7.9 6.5l0.8 2l-5.2 6l-7.5 4.9l-12 5.8l-14 4.2l-22 4.5l-26 2.4l-22 0.3l-34-0.5l-28-2.8l-24-5.7l-14.1-5.1l-13.9-7.6l-5.3-4.4l-0.5-2l4.1-4l6.3-4l21.4-11.2l18-5z"/><path fill="#b80003" fill-rule="evenodd" d="M1197.6 952l18.4-1.3l48 0l32 4l11.9 3.3l7.1 4l5.1 6l2.8 8l-0.6 2l-4.3 3.5l-8 4l-6 2.2l-12 3l-20 2.8l-30 1.6l-24-0.5l-12-0.8l-26-3.6l-10-2.7l-12.2-5.5l-5.1-4l-0.4-2l0.7-2l6.2-10l6.8-5.2l6-2.5z"/><path fill="#a40000" fill-rule="evenodd" d="M1212.9 954l5.1-0.7l44 0l12 1.1l22 3.9l8 2.8l4.4 2.9l2 4l-0.4 2l-2 3.1l-6 4.2l-12 3.8l-12 2.2l-18 2.1l-18 0.5l-22-0.5l-18-1.9l-18-3.2l-8-2.4l-8-5.9l-0.9-2l0.2-4l1.2-2l3.5-2.6l10-3.2l16-2.9z"/></g><rect x="248" y="1394" width="1938.5" height="373" fill="#020efd"/><path fill="#0108f8" d="M517 1459L565 1459L565 1469L591 1469L591 1523L565 1523L565 1571L543 1571L543 1599L518 1599L518 1616L492 1616L492 1627L444 1627L444 1635L396 1635L396 1654L371 1654L371 1665L346 1665L346 1675L320 1675L320 1683L296 1683L296 1692L250 1692L250 1520L296 1520L296 1510L419 1510L419 1500L492 1500L492 1478L517 1478z"/><path fill="#0108f8" d="M1793 1431L1842 1431L1842 1440L1867 1440L1867 1450L1892 1450L1892 1469L1916 1469L1916 1500L2137 1500L2137 1532L2161 1532L2161 1616L2184 1616L2184 1641L1941 1641L1941 1636L1892 1636L1892 1626L1842 1626L1842 1616L1817 1616L1817 1600L1769 1600L1769 1532L1745 1532L1745 1500L1769 1500L1769 1450L1793 1450z"/><path fill="#0108f8" d="M2039 1469L2112 1469L2112 1491L2039 1491z"/><path fill="#8b0000" d="M861 1450H910V1468H861zM960 1450H1008V1459H960zM886 1468H935V1487H886zM1008 1468H1058V1478H1008zM1008 1478H1033V1487H1008zM1058 1478H1082V1487H1058zM910 1487H1033V1505H910zM910 1505H1058V1524H910zM935 1524H1352V1561H935zM1279 1500H1328V1524H1279zM1254 1515H1352V1524H1254zM1328 1505H1352V1515H1328zM1352 1533H1377V1543H1352zM1352 1543H1426V1561H1352zM910 1561H1475V1571H910zM935 1571H1475V1589H935zM960 1589H1475V1599H960zM984 1599H1450V1626H984zM1033 1626H1426V1636H1033zM1082 1636H1107V1641H1082zM1279 1636H1401V1641H1279zM1671 1441H1696V1449H1671z"/><rect x="221.00" y="648.5" width="31.27" height="35.0" fill="#1a2c90"/><rect x="251.67" y="648.5" width="31.27" height="35.0" fill="#1b3094"/><rect x="282.34" y="648.5" width="31.27" height="35.0" fill="#1c3497"/><rect x="313.02" y="648.5" width="31.27" height="35.0" fill="#1d399c"/><rect x="343.69" y="648.5" width="31.27" height="35.0" fill="#1e3ea0"/><rect x="374.36" y="648.5" width="31.27" height="35.0" fill="#1f43a5"/><rect x="405.03" y="648.5" width="31.27" height="35.0" fill="#2149a8"/><rect x="435.70" y="648.5" width="31.27" height="35.0" fill="#224eab"/><rect x="466.38" y="648.5" width="31.27" height="35.0" fill="#2454ae"/><rect x="497.05" y="648.5" width="31.27" height="35.0" fill="#2759b2"/><rect x="527.72" y="648.5" width="31.27" height="35.0" fill="#2a5eb4"/><rect x="558.39" y="648.5" width="31.27" height="35.0" fill="#2c66b9"/><rect x="589.06" y="648.5" width="31.27" height="35.0" fill="#2d6ebe"/><rect x="619.73" y="648.5" width="31.27" height="35.0" fill="#3077c3"/><rect x="650.41" y="648.5" width="31.27" height="35.0" fill="#3482c7"/><rect x="681.08" y="648.5" width="31.27" height="35.0" fill="#378dcd"/><rect x="711.75" y="648.5" width="31.27" height="35.0" fill="#3a9ad4"/><rect x="742.42" y="648.5" width="31.27" height="35.0" fill="#41aade"/><rect x="773.09" y="648.5" width="31.27" height="35.0" fill="#4abae6"/><rect x="803.77" y="648.5" width="31.27" height="35.0" fill="#57c8ed"/><rect x="834.44" y="648.5" width="31.27" height="35.0" fill="#6ed3ec"/><rect x="865.11" y="648.5" width="31.27" height="35.0" fill="#85dbe9"/><rect x="895.78" y="648.5" width="31.27" height="35.0" fill="#8bdbe3"/><rect x="926.45" y="648.5" width="31.27" height="35.0" fill="#90dcdc"/><rect x="957.12" y="648.5" width="31.27" height="35.0" fill="#96dcd6"/><rect x="987.80" y="648.5" width="31.27" height="35.0" fill="#95dbcc"/><rect x="1018.47" y="648.5" width="31.27" height="35.0" fill="#94dac1"/><rect x="1049.14" y="648.5" width="31.27" height="35.0" fill="#92d8b6"/><rect x="1079.81" y="648.5" width="31.27" height="35.0" fill="#96d8ab"/><rect x="1110.48" y="648.5" width="31.27" height="35.0" fill="#9ad89e"/><rect x="1141.16" y="648.5" width="31.27" height="35.0" fill="#9fd792"/><rect x="1171.83" y="648.5" width="31.27" height="35.0" fill="#a4d786"/><rect x="1202.50" y="648.5" width="31.27" height="35.0" fill="#abd87d"/><rect x="1233.17" y="648.5" width="31.27" height="35.0" fill="#b5da78"/><rect x="1263.84" y="648.5" width="31.27" height="35.0" fill="#bfdc72"/><rect x="1294.52" y="648.5" width="31.27" height="35.0" fill="#cadf6d"/><rect x="1325.19" y="648.5" width="31.27" height="35.0" fill="#d7e16a"/><rect x="1355.86" y="648.5" width="31.27" height="35.0" fill="#e3e367"/><rect x="1386.53" y="648.5" width="31.27" height="35.0" fill="#eee563"/><rect x="1417.20" y="648.5" width="31.27" height="35.0" fill="#f8e65e"/><rect x="1447.88" y="648.5" width="31.27" height="35.0" fill="#fde056"/><rect x="1478.55" y="648.5" width="31.27" height="35.0" fill="#fdd54b"/><rect x="1509.22" y="648.5" width="31.27" height="35.0" fill="#fdc643"/><rect x="1539.89" y="648.5" width="31.27" height="35.0" fill="#fdbb40"/><rect x="1570.56" y="648.5" width="31.27" height="35.0" fill="#fdab3c"/><rect x="1601.23" y="648.5" width="31.27" height="35.0" fill="#fda03c"/><rect x="1631.91" y="648.5" width="31.27" height="35.0" fill="#fc9038"/><rect x="1662.58" y="648.5" width="31.27" height="35.0" fill="#fc8435"/><rect x="1693.25" y="648.5" width="31.27" height="35.0" fill="#fb7530"/><rect x="1723.92" y="648.5" width="31.27" height="35.0" fill="#fa6530"/><rect x="1754.59" y="648.5" width="31.27" height="35.0" fill="#f9542c"/><rect x="1785.27" y="648.5" width="31.27" height="35.0" fill="#f8482a"/><rect x="1815.94" y="648.5" width="31.27" height="35.0" fill="#f83f28"/><rect x="1846.61" y="648.5" width="31.27" height="35.0" fill="#f73b29"/><rect x="1877.28" y="648.5" width="31.27" height="35.0" fill="#f63a2a"/><rect x="1907.95" y="648.5" width="31.27" height="35.0" fill="#f53a2b"/><rect x="1938.62" y="648.5" width="31.27" height="35.0" fill="#f43a2c"/><rect x="1969.30" y="648.5" width="31.27" height="35.0" fill="#f13427"/><rect x="1999.97" y="648.5" width="31.27" height="35.0" fill="#ee2e22"/><rect x="2030.64" y="648.5" width="31.27" height="35.0" fill="#e52e21"/><rect x="2061.31" y="648.5" width="31.27" height="35.0" fill="#db3021"/><rect x="2091.98" y="648.5" width="31.27" height="35.0" fill="#ca2d22"/><rect x="2122.66" y="648.5" width="31.27" height="35.0" fill="#b52a23"/><rect x="2153.33" y="648.5" width="31.27" height="35.0" fill="#9a2826"/><rect x="218" y="645.5" width="1969" height="41.0" fill="none" stroke="#a0a0a0" stroke-width="1.6"/><rect x="220.5" y="648.0" width="1964" height="36.0" fill="none" stroke="#0e1318" stroke-width="3.5"/><rect x="545.7" y="648.5" width="5" height="13" fill="#1a1a1a"/><rect x="545.7" y="669.5" width="5" height="14" fill="#1a1a1a"/><rect x="872.8" y="648.5" width="5" height="13" fill="#1a1a1a"/><rect x="872.8" y="669.5" width="5" height="14" fill="#1a1a1a"/><rect x="1200.0" y="648.5" width="5" height="13" fill="#1a1a1a"/><rect x="1200.0" y="669.5" width="5" height="14" fill="#1a1a1a"/><rect x="1527.2" y="648.5" width="5" height="13" fill="#1a1a1a"/><rect x="1527.2" y="669.5" width="5" height="14" fill="#1a1a1a"/><rect x="1854.3" y="648.5" width="5" height="13" fill="#1a1a1a"/><rect x="1854.3" y="669.5" width="5" height="14" fill="#1a1a1a"/><rect x="2210.2" y="843.50" width="39.0" height="15.01" fill="#a40000"/><rect x="2210.2" y="857.91" width="39.0" height="15.01" fill="#b80003"/><rect x="2210.2" y="872.33" width="39.0" height="15.01" fill="#cb0009"/><rect x="2210.2" y="886.74" width="39.0" height="15.01" fill="#da000c"/><rect x="2210.2" y="901.16" width="39.0" height="15.01" fill="#e8000f"/><rect x="2210.2" y="915.57" width="39.0" height="15.01" fill="#f20010"/><rect x="2210.2" y="929.98" width="39.0" height="15.01" fill="#f80010"/><rect x="2210.2" y="944.40" width="39.0" height="15.01" fill="#f80010"/><rect x="2210.2" y="958.81" width="39.0" height="15.01" fill="#f80010"/><rect x="2210.2" y="973.23" width="39.0" height="15.01" fill="#f80010"/><rect x="2210.2" y="987.64" width="39.0" height="15.01" fill="#f80010"/><rect x="2210.2" y="1002.05" width="39.0" height="15.01" fill="#f80010"/><rect x="2210.2" y="1016.47" width="39.0" height="15.01" fill="#f60610"/><rect x="2210.2" y="1030.88" width="39.0" height="15.01" fill="#f51510"/><rect x="2210.2" y="1045.30" width="39.0" height="15.01" fill="#f82410"/><rect x="2210.2" y="1059.71" width="39.0" height="15.01" fill="#f83910"/><rect x="2210.2" y="1074.12" width="39.0" height="15.01" fill="#f84f10"/><rect x="2210.2" y="1088.54" width="39.0" height="15.01" fill="#f86410"/><rect x="2210.2" y="1102.95" width="39.0" height="15.01" fill="#f87610"/><rect x="2210.2" y="1117.37" width="39.0" height="15.01" fill="#f88810"/><rect x="2210.2" y="1131.78" width="39.0" height="15.01" fill="#f89810"/><rect x="2210.2" y="1146.20" width="39.0" height="15.01" fill="#f9a910"/><rect x="2210.2" y="1160.61" width="39.0" height="15.01" fill="#fcbe10"/><rect x="2210.2" y="1175.02" width="39.0" height="15.01" fill="#fbd210"/><rect x="2210.2" y="1189.44" width="39.0" height="15.01" fill="#f8e010"/><rect x="2210.2" y="1203.85" width="39.0" height="15.01" fill="#f1ef10"/><rect x="2210.2" y="1218.27" width="39.0" height="15.01" fill="#ddf810"/><rect x="2210.2" y="1232.68" width="39.0" height="15.01" fill="#c8f810"/><rect x="2210.2" y="1247.09" width="39.0" height="15.01" fill="#b2f810"/><rect x="2210.2" y="1261.51" width="39.0" height="15.01" fill="#9ff811"/><rect x="2210.2" y="1275.92" width="39.0" height="15.01" fill="#94f816"/><rect x="2210.2" y="1290.34" width="39.0" height="15.01" fill="#87f81c"/><rect x="2210.2" y="1304.75" width="39.0" height="15.01" fill="#7cf624"/><rect x="2210.2" y="1319.16" width="39.0" height="15.01" fill="#73f22d"/><rect x="2210.2" y="1333.58" width="39.0" height="15.01" fill="#6bf035"/><rect x="2210.2" y="1347.99" width="39.0" height="15.01" fill="#63f03d"/><rect x="2210.2" y="1362.41" width="39.0" height="15.01" fill="#5ef049"/><rect x="2210.2" y="1376.82" width="39.0" height="15.01" fill="#5af057"/><rect x="2210.2" y="1391.23" width="39.0" height="15.01" fill="#56f067"/><rect x="2210.2" y="1405.65" width="39.0" height="15.01" fill="#52f077"/><rect x="2210.2" y="1420.06" width="39.0" height="15.01" fill="#50f289"/><rect x="2210.2" y="1434.48" width="39.0" height="15.01" fill="#50f69f"/><rect x="2210.2" y="1448.89" width="39.0" height="15.01" fill="#50f8b6"/><rect x="2210.2" y="1463.30" width="39.0" height="15.01" fill="#50f8ce"/><rect x="2210.2" y="1477.72" width="39.0" height="15.01" fill="#50f8e8"/><rect x="2210.2" y="1492.13" width="39.0" height="15.01" fill="#41f8f6"/><rect x="2210.2" y="1506.55" width="39.0" height="15.01" fill="#2fecff"/><rect x="2210.2" y="1520.96" width="39.0" height="15.01" fill="#19c2ff"/><rect x="2210.2" y="1535.38" width="39.0" height="15.01" fill="#108eff"/><rect x="2210.2" y="1549.79" width="39.0" height="15.01" fill="#1067fd"/><rect x="2210.2" y="1564.20" width="39.0" height="15.01" fill="#1053f9"/><rect x="2210.2" y="1578.62" width="39.0" height="15.01" fill="#103af8"/><rect x="2210.2" y="1593.03" width="39.0" height="15.01" fill="#102ff8"/><rect x="2210.2" y="1607.45" width="39.0" height="15.01" fill="#0e24f8"/><rect x="2210.2" y="1621.86" width="39.0" height="15.01" fill="#0819fa"/><rect x="2210.2" y="1636.27" width="39.0" height="15.01" fill="#0614fa"/><rect x="2210.2" y="1650.69" width="39.0" height="15.01" fill="#040ffa"/><rect x="2210.2" y="1665.10" width="39.0" height="15.01" fill="#040ff9"/><rect x="2210.2" y="1679.52" width="39.0" height="15.01" fill="#040ff9"/><rect x="2210.2" y="1693.93" width="39.0" height="15.01" fill="#040ff8"/><rect x="2210.2" y="1708.34" width="39.0" height="15.01" fill="#0410f8"/><rect x="2210.2" y="1722.76" width="39.0" height="15.01" fill="#0410f7"/><rect x="2210.2" y="1737.17" width="39.0" height="15.01" fill="#0410f7"/><rect x="2210.2" y="1751.59" width="39.0" height="15.01" fill="#0410f6"/><rect x="2210.2" y="843.5" width="39.0" height="922.5" fill="none" stroke="#111" stroke-width="4.2"/><rect x="2237.2" y="895.5" width="12" height="4" fill="#111"/><rect x="2237.2" y="1004.0" width="12" height="4" fill="#111"/><rect x="2237.2" y="1112.5" width="12" height="4" fill="#111"/><rect x="2237.2" y="1221.0" width="12" height="4" fill="#111"/><rect x="2237.2" y="1329.5" width="12" height="4" fill="#111"/><rect x="2237.2" y="1438.0" width="12" height="4" fill="#111"/><rect x="2237.2" y="1546.5" width="12" height="4" fill="#111"/><rect x="2237.2" y="1655.0" width="12" height="4" fill="#111"/><rect x="221" y="56" width="1963" height="387" fill="none" stroke="#231815" stroke-width="8"/><rect x="225.0" y="131.4" width="9" height="4" fill="#231815"/><rect x="2171.0" y="131.4" width="9" height="4" fill="#231815"/><rect x="225.0" y="208.8" width="9" height="4" fill="#231815"/><rect x="2171.0" y="208.8" width="9" height="4" fill="#231815"/><rect x="225.0" y="286.2" width="9" height="4" fill="#231815"/><rect x="2171.0" y="286.2" width="9" height="4" fill="#231815"/><rect x="225.0" y="363.6" width="9" height="4" fill="#231815"/><rect x="2171.0" y="363.6" width="9" height="4" fill="#231815"/><rect x="709.8" y="60.0" width="4" height="9" fill="#231815"/><rect x="709.8" y="430.0" width="4" height="9" fill="#231815"/><rect x="1200.5" y="60.0" width="4" height="9" fill="#231815"/><rect x="1200.5" y="430.0" width="4" height="9" fill="#231815"/><rect x="1691.2" y="60.0" width="4" height="9" fill="#231815"/><rect x="1691.2" y="430.0" width="4" height="9" fill="#231815"/><rect x="220" y="157.0" width="1967" height="8" fill="#fff"/><rect x="220" y="306.0" width="1967" height="8" fill="#fff"/><rect x="817.0" y="60" width="8" height="377.5" fill="#fff"/><rect x="1489.5" y="60" width="8" height="377.5" fill="#fff"/><rect x="213.5" y="428" width="3" height="14" fill="#b4b4b4"/><rect x="217.6" y="846" width="1.6" height="374" fill="#dce6f8"/><rect x="222" y="843.6" width="1960" height="379.6" fill="none" stroke="#231815" stroke-width="4.8"/><rect x="224.4" y="917.5" width="11" height="4" fill="#231815"/><rect x="2168.6" y="917.5" width="11" height="4" fill="#231815"/><rect x="224.4" y="993.4" width="11" height="4" fill="#231815"/><rect x="2168.6" y="993.4" width="11" height="4" fill="#231815"/><rect x="224.4" y="1069.4" width="11" height="4" fill="#231815"/><rect x="2168.6" y="1069.4" width="11" height="4" fill="#231815"/><rect x="224.4" y="1145.3" width="11" height="4" fill="#231815"/><rect x="2168.6" y="1145.3" width="11" height="4" fill="#231815"/><rect x="710.0" y="846.0" width="4" height="11" fill="#231815"/><rect x="710.0" y="1209.8" width="4" height="11" fill="#231815"/><rect x="1200.0" y="846.0" width="4" height="11" fill="#231815"/><rect x="1200.0" y="1209.8" width="4" height="11" fill="#231815"/><rect x="1690.0" y="846.0" width="4" height="11" fill="#231815"/><rect x="1690.0" y="1209.8" width="4" height="11" fill="#231815"/><rect x="224" y="938.5" width="1960" height="9" fill="#fff"/><rect x="224" y="1088.1" width="1960" height="9" fill="#fff"/><rect x="816.1" y="846" width="9" height="374" fill="#fff"/><rect x="1488.7" y="846" width="9" height="374" fill="#fff"/><rect x="248" y="1394" width="1938.5" height="373" fill="none" stroke="#262322" stroke-width="4.2"/><rect x="250.1" y="1466.6" width="10" height="4" fill="#262322"/><rect x="2174.4" y="1466.6" width="10" height="4" fill="#262322"/><rect x="250.1" y="1541.2" width="10" height="4" fill="#262322"/><rect x="2174.4" y="1541.2" width="10" height="4" fill="#262322"/><rect x="250.1" y="1615.8" width="10" height="4" fill="#262322"/><rect x="2174.4" y="1615.8" width="10" height="4" fill="#262322"/><rect x="250.1" y="1690.4" width="10" height="4" fill="#262322"/><rect x="2174.4" y="1690.4" width="10" height="4" fill="#262322"/><rect x="468.8" y="1396.1" width="4" height="10" fill="#262322"/><rect x="468.8" y="1754.9" width="4" height="10" fill="#262322"/><rect x="965.9" y="1396.1" width="4" height="10" fill="#262322"/><rect x="965.9" y="1754.9" width="4" height="10" fill="#262322"/><rect x="1465.0" y="1396.1" width="4" height="10" fill="#262322"/><rect x="1465.0" y="1754.9" width="4" height="10" fill="#262322"/><rect x="1961.7" y="1396.1" width="4" height="10" fill="#262322"/><rect x="1961.7" y="1754.9" width="4" height="10" fill="#262322"/><rect x="248" y="1491.0" width="1940" height="8" fill="#fff"/><rect x="248" y="1640.5" width="1940" height="8" fill="#fff"/><rect x="816.3" y="1392" width="8" height="377" fill="#fff"/><rect x="1489.0" y="1392" width="8" height="377" fill="#fff"/><text x="202.0" y="84.9" text-anchor="end" font-size="76.5" fill="#231815" >0</text><text x="202.0" y="160.3" text-anchor="end" font-size="76.5" fill="#231815" >0.2</text><text x="202.0" y="236.3" text-anchor="end" font-size="76.5" fill="#231815" >0.4</text><text x="202.0" y="314.3" text-anchor="end" font-size="76.5" fill="#231815" >0.6</text><text x="202.0" y="390.3" text-anchor="end" font-size="76.5" fill="#231815" >0.8</text><text x="198.5" y="464.5" text-anchor="end" font-size="76.5" fill="#231815" >1</text><text x="225.5" y="520.0" text-anchor="middle" font-size="76.5" fill="#231815" >0</text><text x="464.0" y="520.0" text-anchor="middle" font-size="76.5" fill="#231815" >0.5</text><text x="712.0" y="520.0" text-anchor="middle" font-size="76.5" fill="#231815" >1</text><text x="954.5" y="520.0" text-anchor="middle" font-size="76.5" fill="#231815" >1.5</text><text x="1198.5" y="520.0" text-anchor="middle" font-size="76.5" fill="#231815" >2</text><text x="1437.0" y="520.0" text-anchor="middle" font-size="76.5" fill="#231815" >2.5</text><text x="1685.0" y="520.0" text-anchor="middle" font-size="76.5" fill="#231815" >3</text><text x="1926.0" y="520.0" text-anchor="middle" font-size="76.5" fill="#231815" >3.5</text><text x="2172.0" y="520.0" text-anchor="middle" font-size="76.5" fill="#231815" >4</text><text x="1223.2" y="586.7" text-anchor="middle" font-size="75.5" fill="#231815" >Easting(km)</text><text x="231.2" y="115.5" text-anchor="start" font-size="74.5" fill="#fff" >(a)</text><text transform="translate(83.6,249.8) rotate(-90)" text-anchor="middle" font-size="75.8">Depth(km)</text><text x="217.5" y="753.4" text-anchor="middle" font-size="77" fill="#231815" >−0.1</text><text x="541.8" y="753.4" text-anchor="middle" font-size="77" fill="#231815" >0</text><text x="876.8" y="753.4" text-anchor="middle" font-size="77" fill="#231815" >0.1</text><text x="1205.0" y="753.4" text-anchor="middle" font-size="77" fill="#231815" >0.2</text><text x="1530.0" y="753.4" text-anchor="middle" font-size="77" fill="#231815" >0.3</text><text x="1857.5" y="753.4" text-anchor="middle" font-size="77" fill="#231815" >0.4</text><text x="2180.0" y="753.4" text-anchor="middle" font-size="77" fill="#231815" >0.5</text><text x="2162.3" y="624.0" text-anchor="end" font-size="75.2" fill="#231815" >Density(g/cm<tspan font-size="45" dy="-26">3</tspan><tspan dy="26">)</tspan></text><text x="2337.7" y="816.0" text-anchor="end" font-size="75.2" fill="#231815" >Density(g/cm<tspan font-size="45" dy="-26">3</tspan><tspan dy="26">)</tspan></text><text x="202.0" y="866.3" text-anchor="end" font-size="76.5" fill="#231815" >0</text><text x="202.0" y="940.0" text-anchor="end" font-size="76.5" fill="#231815" >0.2</text><text x="202.0" y="1015.8" text-anchor="end" font-size="76.5" fill="#231815" >0.4</text><text x="202.0" y="1091.6" text-anchor="end" font-size="76.5" fill="#231815" >0.6</text><text x="202.0" y="1167.4" text-anchor="end" font-size="76.5" fill="#231815" >0.8</text><text x="198.5" y="1241.0" text-anchor="end" font-size="76.5" fill="#231815" >1</text><text x="219.5" y="1288.8" text-anchor="middle" font-size="76.5" fill="#231815" >0</text><text x="458.4" y="1288.8" text-anchor="middle" font-size="76.5" fill="#231815" >0.5</text><text x="708.5" y="1288.8" text-anchor="middle" font-size="76.5" fill="#231815" >1</text><text x="951.6" y="1288.8" text-anchor="middle" font-size="76.5" fill="#231815" >1.5</text><text x="1198.0" y="1288.8" text-anchor="middle" font-size="76.5" fill="#231815" >2</text><text x="1438.0" y="1288.8" text-anchor="middle" font-size="76.5" fill="#231815" >2.5</text><text x="1685.5" y="1288.8" text-anchor="middle" font-size="76.5" fill="#231815" >3</text><text x="1927.5" y="1288.8" text-anchor="middle" font-size="76.5" fill="#231815" >3.5</text><text x="2175.0" y="1288.8" text-anchor="middle" font-size="76.5" fill="#231815" >4</text><text x="1215.8" y="1355.7" text-anchor="middle" font-size="75.5" fill="#231815" >Easting(km)</text><text x="228.5" y="900.5" text-anchor="start" font-size="74.5" fill="#fff" >(b)</text><text transform="translate(83.6,1036.2) rotate(-90)" text-anchor="middle" font-size="75.8">Depth(km)</text><text x="2260.0" y="921.0" text-anchor="start" font-size="76.5" fill="#231815" >0.7</text><text x="2260.0" y="1029.2" text-anchor="start" font-size="76.5" fill="#231815" >0.6</text><text x="2260.0" y="1137.4" text-anchor="start" font-size="76.5" fill="#231815" >0.5</text><text x="2260.0" y="1245.6" text-anchor="start" font-size="76.5" fill="#231815" >0.4</text><text x="2260.0" y="1353.8" text-anchor="start" font-size="76.5" fill="#231815" >0.3</text><text x="2260.0" y="1462.0" text-anchor="start" font-size="76.5" fill="#231815" >0.2</text><text x="2260.0" y="1570.2" text-anchor="start" font-size="76.5" fill="#231815" >0.1</text><text x="2260.0" y="1678.4" text-anchor="start" font-size="76.5" fill="#231815" >0</text><text x="2260.0" y="1786.6" text-anchor="start" font-size="76.5" fill="#231815" >−0.1</text><text x="236.5" y="1418.0" text-anchor="end" font-size="76.5" fill="#231815" >0</text><text x="236.5" y="1490.6" text-anchor="end" font-size="76.5" fill="#231815" >0.2</text><text x="236.5" y="1565.2" text-anchor="end" font-size="76.5" fill="#231815" >0.4</text><text x="236.5" y="1639.8" text-anchor="end" font-size="76.5" fill="#231815" >0.6</text><text x="236.5" y="1714.4" text-anchor="end" font-size="76.5" fill="#231815" >0.8</text><text x="231.5" y="1784.8" text-anchor="end" font-size="76.5" fill="#231815" >1</text><text x="461.0" y="1838.5" text-anchor="middle" font-size="76.5" fill="#231815" >441</text><text x="960.3" y="1838.5" text-anchor="middle" font-size="76.5" fill="#231815" >442</text><text x="1457.0" y="1838.5" text-anchor="middle" font-size="76.5" fill="#231815" >443</text><text x="1955.0" y="1838.5" text-anchor="middle" font-size="76.5" fill="#231815" >444</text><text x="1216.6" y="1911.7" text-anchor="middle" font-size="75.5" fill="#231815" >Easting(km)</text><text x="255.5" y="1451.5" text-anchor="start" font-size="74.5" fill="#fff" >(c)</text><text transform="translate(105.6,1594.5) rotate(-90)" text-anchor="middle" font-size="75.8">Depth(km)</text></svg></body></html>
